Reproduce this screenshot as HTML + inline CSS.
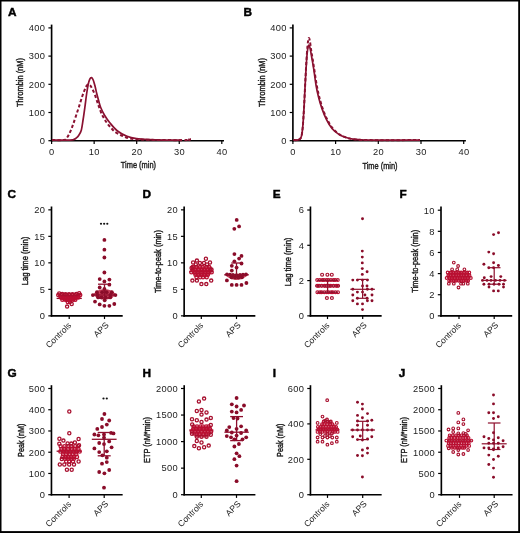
<!DOCTYPE html>
<html><head><meta charset="utf-8"><style>html,body{margin:0;padding:0;background:#fff;}svg{display:block;will-change:transform;}text{font-family:"Liberation Sans", sans-serif;}</style></head>
<body><svg width="520" height="533" viewBox="0 0 520 533" font-family='"Liberation Sans", sans-serif'><rect x="0" y="0" width="1.5" height="533" fill="#000"/>
<rect x="0" y="0" width="520" height="1.5" fill="#000"/>
<rect x="518.2" y="0" width="1.8" height="533" fill="#000"/>
<rect x="0" y="531.1" width="520" height="1.9" fill="#000"/>
<line x1="51.60" y1="24.60" x2="51.60" y2="141.50" stroke="#000" stroke-width="1.65"/>
<line x1="48.40" y1="140.70" x2="51.60" y2="140.70" stroke="#000" stroke-width="1.2"/>
<text x="45.40" y="144.00" font-size="9.3" text-anchor="end" fill="#1c1c1c" font-weight="normal" letter-spacing="0.35">0</text>
<line x1="48.40" y1="112.50" x2="51.60" y2="112.50" stroke="#000" stroke-width="1.2"/>
<text x="45.40" y="115.80" font-size="9.3" text-anchor="end" fill="#1c1c1c" font-weight="normal" letter-spacing="0.35">100</text>
<line x1="48.40" y1="84.30" x2="51.60" y2="84.30" stroke="#000" stroke-width="1.2"/>
<text x="45.40" y="87.60" font-size="9.3" text-anchor="end" fill="#1c1c1c" font-weight="normal" letter-spacing="0.35">200</text>
<line x1="48.40" y1="56.10" x2="51.60" y2="56.10" stroke="#000" stroke-width="1.2"/>
<text x="45.40" y="59.40" font-size="9.3" text-anchor="end" fill="#1c1c1c" font-weight="normal" letter-spacing="0.35">300</text>
<line x1="48.40" y1="27.90" x2="51.60" y2="27.90" stroke="#000" stroke-width="1.2"/>
<text x="45.40" y="31.20" font-size="9.3" text-anchor="end" fill="#1c1c1c" font-weight="normal" letter-spacing="0.35">400</text>
<text transform="translate(23.20,82.45) rotate(-90)" x="0" y="0" font-size="9.6" text-anchor="middle" fill="#1c1c1c" stroke="#1c1c1c" stroke-width="0.42" textLength="49" lengthAdjust="spacingAndGlyphs">Thrombin (nM)</text>
<line x1="50.80" y1="140.70" x2="224.00" y2="140.70" stroke="#000" stroke-width="1.65"/>
<line x1="51.60" y1="140.70" x2="51.60" y2="143.90" stroke="#000" stroke-width="1.2"/>
<text x="51.80" y="155.10" font-size="9.3" text-anchor="middle" fill="#1c1c1c" font-weight="normal" letter-spacing="0.35">0</text>
<line x1="94.15" y1="140.70" x2="94.15" y2="143.90" stroke="#000" stroke-width="1.2"/>
<text x="94.35" y="155.10" font-size="9.3" text-anchor="middle" fill="#1c1c1c" font-weight="normal" letter-spacing="0.35">10</text>
<line x1="136.70" y1="140.70" x2="136.70" y2="143.90" stroke="#000" stroke-width="1.2"/>
<text x="136.90" y="155.10" font-size="9.3" text-anchor="middle" fill="#1c1c1c" font-weight="normal" letter-spacing="0.35">20</text>
<line x1="179.25" y1="140.70" x2="179.25" y2="143.90" stroke="#000" stroke-width="1.2"/>
<text x="179.45" y="155.10" font-size="9.3" text-anchor="middle" fill="#1c1c1c" font-weight="normal" letter-spacing="0.35">30</text>
<line x1="221.80" y1="140.70" x2="221.80" y2="143.90" stroke="#000" stroke-width="1.2"/>
<text x="222.00" y="155.10" font-size="9.3" text-anchor="middle" fill="#1c1c1c" font-weight="normal" letter-spacing="0.35">40</text>
<text x="138.40" y="167.60" font-size="9.6" text-anchor="middle" fill="#1c1c1c" stroke="#1c1c1c" stroke-width="0.42" textLength="35.2" lengthAdjust="spacingAndGlyphs">Time (min)</text>
<path d="M52.00,140.10 C55.00,140.10 66.42,140.18 70.00,140.10 C73.58,140.02 72.50,139.92 73.50,139.60 C74.50,139.28 75.17,138.83 76.00,138.20 C76.83,137.57 77.62,137.13 78.50,135.80 C79.38,134.47 80.52,133.00 81.30,130.20 C82.08,127.40 82.58,122.98 83.20,119.00 C83.82,115.02 84.43,110.47 85.00,106.30 C85.57,102.13 86.07,97.63 86.60,94.00 C87.13,90.37 87.67,86.97 88.20,84.50 C88.73,82.03 89.27,80.35 89.80,79.20 C90.33,78.05 90.83,77.47 91.40,77.60 C91.97,77.73 92.60,78.60 93.20,80.00 C93.80,81.40 94.43,83.83 95.00,86.00 C95.57,88.17 96.00,90.58 96.60,93.00 C97.20,95.42 97.92,98.08 98.60,100.50 C99.28,102.92 99.68,105.00 100.70,107.50 C101.72,110.00 103.18,112.97 104.70,115.50 C106.22,118.03 107.67,120.12 109.80,122.70 C111.93,125.28 114.63,128.73 117.50,131.00 C120.37,133.27 123.83,135.02 127.00,136.30 C130.17,137.58 132.83,138.13 136.50,138.70 C140.17,139.27 144.25,139.47 149.00,139.70 C153.75,139.93 159.50,140.02 165.00,140.10 C170.50,140.18 179.17,140.18 182.00,140.20" fill="none" stroke="#8a1131" stroke-width="1.7"  stroke-linejoin="round"/>
<path d="M52.00,140.10 C53.67,140.10 59.78,140.18 62.00,140.10 C64.22,140.02 64.42,140.07 65.30,139.60 C66.18,139.13 66.67,138.20 67.30,137.30 C67.93,136.40 68.45,135.50 69.10,134.20 C69.75,132.90 70.50,131.23 71.20,129.50 C71.90,127.77 72.48,126.13 73.30,123.80 C74.12,121.47 75.17,118.30 76.10,115.50 C77.03,112.70 77.88,110.17 78.90,107.00 C79.92,103.83 81.18,99.47 82.20,96.50 C83.22,93.53 84.22,91.05 85.00,89.20 C85.78,87.35 86.30,86.18 86.90,85.40 C87.50,84.62 88.02,84.47 88.60,84.50 C89.18,84.53 89.78,84.85 90.40,85.60 C91.02,86.35 91.57,87.52 92.30,89.00 C93.03,90.48 93.97,92.33 94.80,94.50 C95.63,96.67 96.53,99.75 97.30,102.00 C98.07,104.25 98.63,105.92 99.40,108.00 C100.17,110.08 101.02,112.58 101.90,114.50 C102.78,116.42 103.78,118.00 104.70,119.50 C105.62,121.00 106.35,122.12 107.40,123.50 C108.45,124.88 109.80,126.45 111.00,127.80 C112.20,129.15 113.22,130.50 114.60,131.60 C115.98,132.70 117.73,133.58 119.30,134.40 C120.87,135.22 122.22,135.80 124.00,136.50 C125.78,137.20 127.33,138.10 130.00,138.60 C132.67,139.10 135.00,139.27 140.00,139.50 C145.00,139.73 152.33,139.90 160.00,140.00 C167.67,140.10 181.33,140.23 186.00,140.10 C190.67,139.97 187.42,139.22 188.00,139.20 C188.58,139.18 189.00,140.03 189.50,140.00 C190.00,139.97 190.50,138.98 191.00,139.00 C191.50,139.02 192.25,139.92 192.50,140.10" fill="none" stroke="#8a1131" stroke-width="2.0" stroke-dasharray="3.2 2.2" stroke-linejoin="round"/>
<line x1="292.90" y1="24.60" x2="292.90" y2="141.50" stroke="#000" stroke-width="1.65"/>
<line x1="289.70" y1="140.70" x2="292.90" y2="140.70" stroke="#000" stroke-width="1.2"/>
<text x="286.70" y="144.00" font-size="9.3" text-anchor="end" fill="#1c1c1c" font-weight="normal" letter-spacing="0.35">0</text>
<line x1="289.70" y1="112.50" x2="292.90" y2="112.50" stroke="#000" stroke-width="1.2"/>
<text x="286.70" y="115.80" font-size="9.3" text-anchor="end" fill="#1c1c1c" font-weight="normal" letter-spacing="0.35">100</text>
<line x1="289.70" y1="84.30" x2="292.90" y2="84.30" stroke="#000" stroke-width="1.2"/>
<text x="286.70" y="87.60" font-size="9.3" text-anchor="end" fill="#1c1c1c" font-weight="normal" letter-spacing="0.35">200</text>
<line x1="289.70" y1="56.10" x2="292.90" y2="56.10" stroke="#000" stroke-width="1.2"/>
<text x="286.70" y="59.40" font-size="9.3" text-anchor="end" fill="#1c1c1c" font-weight="normal" letter-spacing="0.35">300</text>
<line x1="289.70" y1="27.90" x2="292.90" y2="27.90" stroke="#000" stroke-width="1.2"/>
<text x="286.70" y="31.20" font-size="9.3" text-anchor="end" fill="#1c1c1c" font-weight="normal" letter-spacing="0.35">400</text>
<text transform="translate(264.50,82.45) rotate(-90)" x="0" y="0" font-size="9.6" text-anchor="middle" fill="#1c1c1c" stroke="#1c1c1c" stroke-width="0.42" textLength="49" lengthAdjust="spacingAndGlyphs">Thrombin (nM)</text>
<line x1="292.10" y1="140.70" x2="465.90" y2="140.70" stroke="#000" stroke-width="1.65"/>
<line x1="292.90" y1="140.70" x2="292.90" y2="143.90" stroke="#000" stroke-width="1.2"/>
<text x="293.10" y="155.10" font-size="9.3" text-anchor="middle" fill="#1c1c1c" font-weight="normal" letter-spacing="0.35">0</text>
<line x1="335.60" y1="140.70" x2="335.60" y2="143.90" stroke="#000" stroke-width="1.2"/>
<text x="335.80" y="155.10" font-size="9.3" text-anchor="middle" fill="#1c1c1c" font-weight="normal" letter-spacing="0.35">10</text>
<line x1="378.30" y1="140.70" x2="378.30" y2="143.90" stroke="#000" stroke-width="1.2"/>
<text x="378.50" y="155.10" font-size="9.3" text-anchor="middle" fill="#1c1c1c" font-weight="normal" letter-spacing="0.35">20</text>
<line x1="421.00" y1="140.70" x2="421.00" y2="143.90" stroke="#000" stroke-width="1.2"/>
<text x="421.20" y="155.10" font-size="9.3" text-anchor="middle" fill="#1c1c1c" font-weight="normal" letter-spacing="0.35">30</text>
<line x1="463.70" y1="140.70" x2="463.70" y2="143.90" stroke="#000" stroke-width="1.2"/>
<text x="463.90" y="155.10" font-size="9.3" text-anchor="middle" fill="#1c1c1c" font-weight="normal" letter-spacing="0.35">40</text>
<text x="380.00" y="169.40" font-size="9.6" text-anchor="middle" fill="#1c1c1c" stroke="#1c1c1c" stroke-width="0.42" textLength="35.2" lengthAdjust="spacingAndGlyphs">Time (min)</text>
<path d="M293.50,140.10 C294.08,140.10 296.08,140.18 297.00,140.10 C297.92,140.02 298.40,139.92 299.00,139.60 C299.60,139.28 300.15,138.93 300.60,138.20 C301.05,137.47 301.33,137.15 301.70,135.20 C302.07,133.25 302.42,131.02 302.80,126.50 C303.18,121.98 303.62,114.85 304.00,108.10 C304.38,101.35 304.75,92.68 305.10,86.00 C305.45,79.32 305.77,73.33 306.10,68.00 C306.43,62.67 306.75,57.62 307.10,54.00 C307.45,50.38 307.85,47.72 308.20,46.30 C308.55,44.88 308.85,45.02 309.20,45.50 C309.55,45.98 309.90,47.37 310.30,49.20 C310.70,51.03 311.02,53.13 311.60,56.50 C312.18,59.87 313.05,64.57 313.80,69.40 C314.55,74.23 315.33,80.98 316.10,85.50 C316.87,90.02 317.45,92.73 318.40,96.50 C319.35,100.27 320.45,104.25 321.80,108.10 C323.15,111.95 324.77,116.15 326.50,119.60 C328.23,123.05 330.08,126.30 332.20,128.80 C334.32,131.30 336.88,133.15 339.20,134.60 C341.52,136.05 343.80,136.75 346.10,137.50 C348.40,138.25 349.85,138.68 353.00,139.10 C356.15,139.52 358.83,139.82 365.00,140.00 C371.17,140.18 380.83,140.18 390.00,140.20 C399.17,140.22 415.00,140.12 420.00,140.10" fill="none" stroke="#8a1131" stroke-width="1.7"  stroke-linejoin="round"/>
<path d="M293.50,140.10 C294.08,140.10 296.08,140.18 297.00,140.10 C297.92,140.02 298.40,139.92 299.00,139.60 C299.60,139.28 300.15,138.93 300.60,138.20 C301.05,137.47 301.33,137.15 301.70,135.20 C302.07,133.25 302.42,131.02 302.80,126.50 C303.18,121.98 303.60,115.18 304.00,108.10 C304.40,101.02 304.82,91.52 305.20,84.00 C305.58,76.48 305.92,69.33 306.30,63.00 C306.68,56.67 307.10,50.13 307.50,46.00 C307.90,41.87 308.30,39.00 308.70,38.20 C309.10,37.40 309.48,39.15 309.90,41.20 C310.32,43.25 310.72,47.37 311.20,50.50 C311.68,53.63 312.25,56.58 312.80,60.00 C313.35,63.42 313.87,66.92 314.50,71.00 C315.13,75.08 315.87,80.42 316.60,84.50 C317.33,88.58 317.95,91.67 318.90,95.50 C319.85,99.33 320.95,103.58 322.30,107.50 C323.65,111.42 325.25,115.50 327.00,119.00 C328.75,122.50 330.67,125.90 332.80,128.50 C334.93,131.10 337.50,133.07 339.80,134.60 C342.10,136.13 344.32,136.93 346.60,137.70 C348.88,138.47 350.43,138.82 353.50,139.20 C356.57,139.58 358.92,139.83 365.00,140.00 C371.08,140.17 380.83,140.20 390.00,140.20 C399.17,140.20 415.00,140.03 420.00,140.00" fill="none" stroke="#8a1131" stroke-width="2.0" stroke-dasharray="3.2 2.2" stroke-linejoin="round"/>
<line x1="51.50" y1="206.50" x2="51.50" y2="316.65" stroke="#000" stroke-width="1.65"/>
<line x1="48.30" y1="315.85" x2="51.50" y2="315.85" stroke="#000" stroke-width="1.2"/>
<text x="45.30" y="319.15" font-size="9.3" text-anchor="end" fill="#1c1c1c" font-weight="normal" letter-spacing="0.35">0</text>
<line x1="48.30" y1="289.35" x2="51.50" y2="289.35" stroke="#000" stroke-width="1.2"/>
<text x="45.30" y="292.65" font-size="9.3" text-anchor="end" fill="#1c1c1c" font-weight="normal" letter-spacing="0.35">5</text>
<line x1="48.30" y1="262.85" x2="51.50" y2="262.85" stroke="#000" stroke-width="1.2"/>
<text x="45.30" y="266.15" font-size="9.3" text-anchor="end" fill="#1c1c1c" font-weight="normal" letter-spacing="0.35">10</text>
<line x1="48.30" y1="236.35" x2="51.50" y2="236.35" stroke="#000" stroke-width="1.2"/>
<text x="45.30" y="239.65" font-size="9.3" text-anchor="end" fill="#1c1c1c" font-weight="normal" letter-spacing="0.35">15</text>
<line x1="48.30" y1="209.85" x2="51.50" y2="209.85" stroke="#000" stroke-width="1.2"/>
<text x="45.30" y="213.15" font-size="9.3" text-anchor="end" fill="#1c1c1c" font-weight="normal" letter-spacing="0.35">20</text>
<text transform="translate(28.20,261.00) rotate(-90)" x="0" y="0" font-size="9.6" text-anchor="middle" fill="#1c1c1c" stroke="#1c1c1c" stroke-width="0.42" textLength="48.6" lengthAdjust="spacingAndGlyphs">Lag time (min)</text>
<line x1="50.70" y1="315.85" x2="122.70" y2="315.85" stroke="#000" stroke-width="1.65"/>
<line x1="69.20" y1="315.85" x2="69.20" y2="319.05" stroke="#000" stroke-width="1.2"/>
<text transform="translate(71.80,325.95) rotate(-45)" x="0" y="0" font-size="8.6" text-anchor="end" fill="#1c1c1c">Controls</text>
<line x1="104.50" y1="315.85" x2="104.50" y2="319.05" stroke="#000" stroke-width="1.2"/>
<text transform="translate(109.20,325.65) rotate(-45)" x="0" y="0" font-size="8.6" text-anchor="end" fill="#1c1c1c">APS</text>
<line x1="184.15" y1="206.50" x2="184.15" y2="316.65" stroke="#000" stroke-width="1.65"/>
<line x1="180.95" y1="315.85" x2="184.15" y2="315.85" stroke="#000" stroke-width="1.2"/>
<text x="177.95" y="319.15" font-size="9.3" text-anchor="end" fill="#1c1c1c" font-weight="normal" letter-spacing="0.35">0</text>
<line x1="180.95" y1="289.35" x2="184.15" y2="289.35" stroke="#000" stroke-width="1.2"/>
<text x="177.95" y="292.65" font-size="9.3" text-anchor="end" fill="#1c1c1c" font-weight="normal" letter-spacing="0.35">5</text>
<line x1="180.95" y1="262.85" x2="184.15" y2="262.85" stroke="#000" stroke-width="1.2"/>
<text x="177.95" y="266.15" font-size="9.3" text-anchor="end" fill="#1c1c1c" font-weight="normal" letter-spacing="0.35">10</text>
<line x1="180.95" y1="236.35" x2="184.15" y2="236.35" stroke="#000" stroke-width="1.2"/>
<text x="177.95" y="239.65" font-size="9.3" text-anchor="end" fill="#1c1c1c" font-weight="normal" letter-spacing="0.35">15</text>
<line x1="180.95" y1="209.85" x2="184.15" y2="209.85" stroke="#000" stroke-width="1.2"/>
<text x="177.95" y="213.15" font-size="9.3" text-anchor="end" fill="#1c1c1c" font-weight="normal" letter-spacing="0.35">20</text>
<text transform="translate(160.80,261.50) rotate(-90)" x="0" y="0" font-size="9.6" text-anchor="middle" fill="#1c1c1c" stroke="#1c1c1c" stroke-width="0.42" textLength="62.9" lengthAdjust="spacingAndGlyphs">Time-to-peak (min)</text>
<line x1="183.35" y1="315.85" x2="255.35" y2="315.85" stroke="#000" stroke-width="1.65"/>
<line x1="201.30" y1="315.85" x2="201.30" y2="319.05" stroke="#000" stroke-width="1.2"/>
<text transform="translate(203.90,325.95) rotate(-45)" x="0" y="0" font-size="8.6" text-anchor="end" fill="#1c1c1c">Controls</text>
<line x1="236.50" y1="315.85" x2="236.50" y2="319.05" stroke="#000" stroke-width="1.2"/>
<text transform="translate(241.20,325.65) rotate(-45)" x="0" y="0" font-size="8.6" text-anchor="end" fill="#1c1c1c">APS</text>
<line x1="310.45" y1="206.50" x2="310.45" y2="316.65" stroke="#000" stroke-width="1.65"/>
<line x1="307.25" y1="315.85" x2="310.45" y2="315.85" stroke="#000" stroke-width="1.2"/>
<text x="304.25" y="319.15" font-size="9.3" text-anchor="end" fill="#1c1c1c" font-weight="normal" letter-spacing="0.35">0</text>
<line x1="307.25" y1="280.57" x2="310.45" y2="280.57" stroke="#000" stroke-width="1.2"/>
<text x="304.25" y="283.87" font-size="9.3" text-anchor="end" fill="#1c1c1c" font-weight="normal" letter-spacing="0.35">2</text>
<line x1="307.25" y1="245.29" x2="310.45" y2="245.29" stroke="#000" stroke-width="1.2"/>
<text x="304.25" y="248.59" font-size="9.3" text-anchor="end" fill="#1c1c1c" font-weight="normal" letter-spacing="0.35">4</text>
<line x1="307.25" y1="210.01" x2="310.45" y2="210.01" stroke="#000" stroke-width="1.2"/>
<text x="304.25" y="213.31" font-size="9.3" text-anchor="end" fill="#1c1c1c" font-weight="normal" letter-spacing="0.35">6</text>
<text transform="translate(291.35,261.90) rotate(-90)" x="0" y="0" font-size="9.6" text-anchor="middle" fill="#1c1c1c" stroke="#1c1c1c" stroke-width="0.42" textLength="48.6" lengthAdjust="spacingAndGlyphs">Lag time (min)</text>
<line x1="309.65" y1="315.85" x2="381.65" y2="315.85" stroke="#000" stroke-width="1.65"/>
<line x1="327.50" y1="315.85" x2="327.50" y2="319.05" stroke="#000" stroke-width="1.2"/>
<text transform="translate(330.10,325.95) rotate(-45)" x="0" y="0" font-size="8.6" text-anchor="end" fill="#1c1c1c">Controls</text>
<line x1="362.70" y1="315.85" x2="362.70" y2="319.05" stroke="#000" stroke-width="1.2"/>
<text transform="translate(367.40,325.65) rotate(-45)" x="0" y="0" font-size="8.6" text-anchor="end" fill="#1c1c1c">APS</text>
<line x1="441.00" y1="206.50" x2="441.00" y2="316.65" stroke="#000" stroke-width="1.65"/>
<line x1="437.80" y1="315.85" x2="441.00" y2="315.85" stroke="#000" stroke-width="1.2"/>
<text x="434.80" y="319.15" font-size="9.3" text-anchor="end" fill="#1c1c1c" font-weight="normal" letter-spacing="0.35">0</text>
<line x1="437.80" y1="294.72" x2="441.00" y2="294.72" stroke="#000" stroke-width="1.2"/>
<text x="434.80" y="298.02" font-size="9.3" text-anchor="end" fill="#1c1c1c" font-weight="normal" letter-spacing="0.35">2</text>
<line x1="437.80" y1="273.59" x2="441.00" y2="273.59" stroke="#000" stroke-width="1.2"/>
<text x="434.80" y="276.89" font-size="9.3" text-anchor="end" fill="#1c1c1c" font-weight="normal" letter-spacing="0.35">4</text>
<line x1="437.80" y1="252.46" x2="441.00" y2="252.46" stroke="#000" stroke-width="1.2"/>
<text x="434.80" y="255.76" font-size="9.3" text-anchor="end" fill="#1c1c1c" font-weight="normal" letter-spacing="0.35">6</text>
<line x1="437.80" y1="231.33" x2="441.00" y2="231.33" stroke="#000" stroke-width="1.2"/>
<text x="434.80" y="234.63" font-size="9.3" text-anchor="end" fill="#1c1c1c" font-weight="normal" letter-spacing="0.35">8</text>
<line x1="437.80" y1="210.20" x2="441.00" y2="210.20" stroke="#000" stroke-width="1.2"/>
<text x="434.80" y="213.50" font-size="9.3" text-anchor="end" fill="#1c1c1c" font-weight="normal" letter-spacing="0.35">10</text>
<text transform="translate(418.30,261.20) rotate(-90)" x="0" y="0" font-size="9.6" text-anchor="middle" fill="#1c1c1c" stroke="#1c1c1c" stroke-width="0.42" textLength="62.9" lengthAdjust="spacingAndGlyphs">Time-to-peak (min)</text>
<line x1="440.20" y1="315.85" x2="512.20" y2="315.85" stroke="#000" stroke-width="1.65"/>
<line x1="459.00" y1="315.85" x2="459.00" y2="319.05" stroke="#000" stroke-width="1.2"/>
<text transform="translate(461.60,325.95) rotate(-45)" x="0" y="0" font-size="8.6" text-anchor="end" fill="#1c1c1c">Controls</text>
<line x1="494.20" y1="315.85" x2="494.20" y2="319.05" stroke="#000" stroke-width="1.2"/>
<text transform="translate(498.90,325.65) rotate(-45)" x="0" y="0" font-size="8.6" text-anchor="end" fill="#1c1c1c">APS</text>
<line x1="51.45" y1="385.20" x2="51.45" y2="495.50" stroke="#000" stroke-width="1.65"/>
<line x1="48.25" y1="494.70" x2="51.45" y2="494.70" stroke="#000" stroke-width="1.2"/>
<text x="45.25" y="498.00" font-size="9.3" text-anchor="end" fill="#1c1c1c" font-weight="normal" letter-spacing="0.35">0</text>
<line x1="48.25" y1="473.46" x2="51.45" y2="473.46" stroke="#000" stroke-width="1.2"/>
<text x="45.25" y="476.76" font-size="9.3" text-anchor="end" fill="#1c1c1c" font-weight="normal" letter-spacing="0.35">100</text>
<line x1="48.25" y1="452.22" x2="51.45" y2="452.22" stroke="#000" stroke-width="1.2"/>
<text x="45.25" y="455.52" font-size="9.3" text-anchor="end" fill="#1c1c1c" font-weight="normal" letter-spacing="0.35">200</text>
<line x1="48.25" y1="430.98" x2="51.45" y2="430.98" stroke="#000" stroke-width="1.2"/>
<text x="45.25" y="434.28" font-size="9.3" text-anchor="end" fill="#1c1c1c" font-weight="normal" letter-spacing="0.35">300</text>
<line x1="48.25" y1="409.74" x2="51.45" y2="409.74" stroke="#000" stroke-width="1.2"/>
<text x="45.25" y="413.04" font-size="9.3" text-anchor="end" fill="#1c1c1c" font-weight="normal" letter-spacing="0.35">400</text>
<line x1="48.25" y1="388.50" x2="51.45" y2="388.50" stroke="#000" stroke-width="1.2"/>
<text x="45.25" y="391.80" font-size="9.3" text-anchor="end" fill="#1c1c1c" font-weight="normal" letter-spacing="0.35">500</text>
<text transform="translate(23.60,440.30) rotate(-90)" x="0" y="0" font-size="9.6" text-anchor="middle" fill="#1c1c1c" stroke="#1c1c1c" stroke-width="0.42" textLength="33.2" lengthAdjust="spacingAndGlyphs">Peak (nM)</text>
<line x1="50.65" y1="494.70" x2="122.65" y2="494.70" stroke="#000" stroke-width="1.65"/>
<line x1="69.10" y1="494.70" x2="69.10" y2="497.90" stroke="#000" stroke-width="1.2"/>
<text transform="translate(71.70,504.80) rotate(-45)" x="0" y="0" font-size="8.6" text-anchor="end" fill="#1c1c1c">Controls</text>
<line x1="104.20" y1="494.70" x2="104.20" y2="497.90" stroke="#000" stroke-width="1.2"/>
<text transform="translate(108.90,504.50) rotate(-45)" x="0" y="0" font-size="8.6" text-anchor="end" fill="#1c1c1c">APS</text>
<line x1="184.20" y1="385.20" x2="184.20" y2="495.50" stroke="#000" stroke-width="1.65"/>
<line x1="181.00" y1="494.70" x2="184.20" y2="494.70" stroke="#000" stroke-width="1.2"/>
<text x="178.00" y="498.00" font-size="9.3" text-anchor="end" fill="#1c1c1c" font-weight="normal" letter-spacing="0.35">0</text>
<line x1="181.00" y1="468.15" x2="184.20" y2="468.15" stroke="#000" stroke-width="1.2"/>
<text x="178.00" y="471.45" font-size="9.3" text-anchor="end" fill="#1c1c1c" font-weight="normal" letter-spacing="0.35">500</text>
<line x1="181.00" y1="441.60" x2="184.20" y2="441.60" stroke="#000" stroke-width="1.2"/>
<text x="178.00" y="444.90" font-size="9.3" text-anchor="end" fill="#1c1c1c" font-weight="normal" letter-spacing="0.35">1000</text>
<line x1="181.00" y1="415.05" x2="184.20" y2="415.05" stroke="#000" stroke-width="1.2"/>
<text x="178.00" y="418.35" font-size="9.3" text-anchor="end" fill="#1c1c1c" font-weight="normal" letter-spacing="0.35">1500</text>
<line x1="181.00" y1="388.50" x2="184.20" y2="388.50" stroke="#000" stroke-width="1.2"/>
<text x="178.00" y="391.80" font-size="9.3" text-anchor="end" fill="#1c1c1c" font-weight="normal" letter-spacing="0.35">2000</text>
<text transform="translate(150.30,440.00) rotate(-90)" x="0" y="0" font-size="9.6" text-anchor="middle" fill="#1c1c1c" stroke="#1c1c1c" stroke-width="0.42" textLength="46" lengthAdjust="spacingAndGlyphs">ETP (nM*min)</text>
<line x1="183.40" y1="494.70" x2="255.40" y2="494.70" stroke="#000" stroke-width="1.65"/>
<line x1="201.30" y1="494.70" x2="201.30" y2="497.90" stroke="#000" stroke-width="1.2"/>
<text transform="translate(203.90,504.80) rotate(-45)" x="0" y="0" font-size="8.6" text-anchor="end" fill="#1c1c1c">Controls</text>
<line x1="236.50" y1="494.70" x2="236.50" y2="497.90" stroke="#000" stroke-width="1.2"/>
<text transform="translate(241.20,504.50) rotate(-45)" x="0" y="0" font-size="8.6" text-anchor="end" fill="#1c1c1c">APS</text>
<line x1="310.45" y1="385.20" x2="310.45" y2="495.50" stroke="#000" stroke-width="1.65"/>
<line x1="307.25" y1="494.70" x2="310.45" y2="494.70" stroke="#000" stroke-width="1.2"/>
<text x="304.25" y="498.00" font-size="9.3" text-anchor="end" fill="#1c1c1c" font-weight="normal" letter-spacing="0.35">0</text>
<line x1="307.25" y1="459.30" x2="310.45" y2="459.30" stroke="#000" stroke-width="1.2"/>
<text x="304.25" y="462.60" font-size="9.3" text-anchor="end" fill="#1c1c1c" font-weight="normal" letter-spacing="0.35">200</text>
<line x1="307.25" y1="423.90" x2="310.45" y2="423.90" stroke="#000" stroke-width="1.2"/>
<text x="304.25" y="427.20" font-size="9.3" text-anchor="end" fill="#1c1c1c" font-weight="normal" letter-spacing="0.35">400</text>
<line x1="307.25" y1="388.50" x2="310.45" y2="388.50" stroke="#000" stroke-width="1.2"/>
<text x="304.25" y="391.80" font-size="9.3" text-anchor="end" fill="#1c1c1c" font-weight="normal" letter-spacing="0.35">600</text>
<text transform="translate(282.60,440.30) rotate(-90)" x="0" y="0" font-size="9.6" text-anchor="middle" fill="#1c1c1c" stroke="#1c1c1c" stroke-width="0.42" textLength="33.2" lengthAdjust="spacingAndGlyphs">Peak (nM)</text>
<line x1="309.65" y1="494.70" x2="381.65" y2="494.70" stroke="#000" stroke-width="1.65"/>
<line x1="327.50" y1="494.70" x2="327.50" y2="497.90" stroke="#000" stroke-width="1.2"/>
<text transform="translate(330.10,504.80) rotate(-45)" x="0" y="0" font-size="8.6" text-anchor="end" fill="#1c1c1c">Controls</text>
<line x1="362.70" y1="494.70" x2="362.70" y2="497.90" stroke="#000" stroke-width="1.2"/>
<text transform="translate(367.40,504.50) rotate(-45)" x="0" y="0" font-size="8.6" text-anchor="end" fill="#1c1c1c">APS</text>
<line x1="441.35" y1="385.20" x2="441.35" y2="495.50" stroke="#000" stroke-width="1.65"/>
<line x1="438.15" y1="494.70" x2="441.35" y2="494.70" stroke="#000" stroke-width="1.2"/>
<text x="435.15" y="498.00" font-size="9.3" text-anchor="end" fill="#1c1c1c" font-weight="normal" letter-spacing="0.35">0</text>
<line x1="438.15" y1="473.46" x2="441.35" y2="473.46" stroke="#000" stroke-width="1.2"/>
<text x="435.15" y="476.76" font-size="9.3" text-anchor="end" fill="#1c1c1c" font-weight="normal" letter-spacing="0.35">500</text>
<line x1="438.15" y1="452.22" x2="441.35" y2="452.22" stroke="#000" stroke-width="1.2"/>
<text x="435.15" y="455.52" font-size="9.3" text-anchor="end" fill="#1c1c1c" font-weight="normal" letter-spacing="0.35">1000</text>
<line x1="438.15" y1="430.98" x2="441.35" y2="430.98" stroke="#000" stroke-width="1.2"/>
<text x="435.15" y="434.28" font-size="9.3" text-anchor="end" fill="#1c1c1c" font-weight="normal" letter-spacing="0.35">1500</text>
<line x1="438.15" y1="409.74" x2="441.35" y2="409.74" stroke="#000" stroke-width="1.2"/>
<text x="435.15" y="413.04" font-size="9.3" text-anchor="end" fill="#1c1c1c" font-weight="normal" letter-spacing="0.35">2000</text>
<line x1="438.15" y1="388.50" x2="441.35" y2="388.50" stroke="#000" stroke-width="1.2"/>
<text x="435.15" y="391.80" font-size="9.3" text-anchor="end" fill="#1c1c1c" font-weight="normal" letter-spacing="0.35">2500</text>
<text transform="translate(407.45,440.00) rotate(-90)" x="0" y="0" font-size="9.6" text-anchor="middle" fill="#1c1c1c" stroke="#1c1c1c" stroke-width="0.42" textLength="46" lengthAdjust="spacingAndGlyphs">ETP (nM*min)</text>
<line x1="440.55" y1="494.70" x2="512.55" y2="494.70" stroke="#000" stroke-width="1.65"/>
<line x1="459.50" y1="494.70" x2="459.50" y2="497.90" stroke="#000" stroke-width="1.2"/>
<text transform="translate(462.10,504.80) rotate(-45)" x="0" y="0" font-size="8.6" text-anchor="end" fill="#1c1c1c">Controls</text>
<line x1="494.20" y1="494.70" x2="494.20" y2="497.90" stroke="#000" stroke-width="1.2"/>
<text transform="translate(498.90,504.50) rotate(-45)" x="0" y="0" font-size="8.6" text-anchor="end" fill="#1c1c1c">APS</text>
<line x1="56.60" y1="298.40" x2="81.80" y2="298.40" stroke="#8e0f2d" stroke-width="1.3"/>
<circle cx="58.24" cy="295.10" r="1.6" fill="#fff" fill-opacity="0" stroke="#b90f31" stroke-width="1.3"/>
<circle cx="61.33" cy="295.10" r="1.6" fill="#fff" fill-opacity="0" stroke="#b90f31" stroke-width="1.3"/>
<circle cx="64.41" cy="295.10" r="1.6" fill="#fff" fill-opacity="0" stroke="#b90f31" stroke-width="1.3"/>
<circle cx="66.59" cy="295.10" r="1.6" fill="#fff" fill-opacity="0" stroke="#b90f31" stroke-width="1.3"/>
<circle cx="69.68" cy="295.10" r="1.6" fill="#fff" fill-opacity="0" stroke="#b90f31" stroke-width="1.3"/>
<circle cx="71.87" cy="295.10" r="1.6" fill="#fff" fill-opacity="0" stroke="#b90f31" stroke-width="1.3"/>
<circle cx="74.95" cy="295.10" r="1.6" fill="#fff" fill-opacity="0" stroke="#b90f31" stroke-width="1.3"/>
<circle cx="78.04" cy="295.10" r="1.6" fill="#fff" fill-opacity="0" stroke="#b90f31" stroke-width="1.3"/>
<circle cx="80.22" cy="295.10" r="1.6" fill="#fff" fill-opacity="0" stroke="#b90f31" stroke-width="1.3"/>
<circle cx="60.93" cy="297.45" r="1.6" fill="#fff" fill-opacity="0" stroke="#b90f31" stroke-width="1.3"/>
<circle cx="62.89" cy="297.45" r="1.6" fill="#fff" fill-opacity="0" stroke="#b90f31" stroke-width="1.3"/>
<circle cx="65.75" cy="297.45" r="1.6" fill="#fff" fill-opacity="0" stroke="#b90f31" stroke-width="1.3"/>
<circle cx="68.61" cy="297.45" r="1.6" fill="#fff" fill-opacity="0" stroke="#b90f31" stroke-width="1.3"/>
<circle cx="70.57" cy="297.45" r="1.6" fill="#fff" fill-opacity="0" stroke="#b90f31" stroke-width="1.3"/>
<circle cx="73.43" cy="297.45" r="1.6" fill="#fff" fill-opacity="0" stroke="#b90f31" stroke-width="1.3"/>
<circle cx="75.39" cy="297.45" r="1.6" fill="#fff" fill-opacity="0" stroke="#b90f31" stroke-width="1.3"/>
<circle cx="78.25" cy="297.45" r="1.6" fill="#fff" fill-opacity="0" stroke="#b90f31" stroke-width="1.3"/>
<circle cx="62.32" cy="299.80" r="1.6" fill="#fff" fill-opacity="0" stroke="#b90f31" stroke-width="1.3"/>
<circle cx="65.28" cy="299.80" r="1.6" fill="#fff" fill-opacity="0" stroke="#b90f31" stroke-width="1.3"/>
<circle cx="67.34" cy="299.80" r="1.6" fill="#fff" fill-opacity="0" stroke="#b90f31" stroke-width="1.3"/>
<circle cx="70.30" cy="299.80" r="1.6" fill="#fff" fill-opacity="0" stroke="#b90f31" stroke-width="1.3"/>
<circle cx="73.26" cy="299.80" r="1.6" fill="#fff" fill-opacity="0" stroke="#b90f31" stroke-width="1.3"/>
<circle cx="75.32" cy="299.80" r="1.6" fill="#fff" fill-opacity="0" stroke="#b90f31" stroke-width="1.3"/>
<circle cx="67.73" cy="302.05" r="1.6" fill="#fff" fill-opacity="0" stroke="#b90f31" stroke-width="1.3"/>
<circle cx="69.94" cy="302.05" r="1.6" fill="#fff" fill-opacity="0" stroke="#b90f31" stroke-width="1.3"/>
<polygon points="58.0,294.6 80.5,294.6 80.8,297.0 76.0,300.3 69.0,302.3 62.0,300.3 58.0,297.0" fill="#b90f31" fill-opacity="0.95"/>
<circle cx="59.20" cy="293.40" r="1.6" fill="#fff" fill-opacity="0" stroke="#a8102f" stroke-width="1.3"/>
<circle cx="62.20" cy="293.90" r="1.6" fill="#fff" fill-opacity="0" stroke="#a8102f" stroke-width="1.3"/>
<circle cx="76.30" cy="293.90" r="1.6" fill="#fff" fill-opacity="0" stroke="#a8102f" stroke-width="1.3"/>
<circle cx="79.20" cy="293.30" r="1.6" fill="#fff" fill-opacity="0" stroke="#a8102f" stroke-width="1.3"/>
<circle cx="65.50" cy="294.20" r="1.6" fill="#fff" fill-opacity="0" stroke="#a8102f" stroke-width="1.3"/>
<circle cx="69.00" cy="294.20" r="1.6" fill="#fff" fill-opacity="0" stroke="#a8102f" stroke-width="1.3"/>
<circle cx="72.50" cy="294.20" r="1.6" fill="#fff" fill-opacity="0" stroke="#a8102f" stroke-width="1.3"/>
<circle cx="67.10" cy="306.60" r="1.6" fill="#fff" fill-opacity="0" stroke="#a8102f" stroke-width="1.3"/>
<circle cx="71.70" cy="304.00" r="1.6" fill="#fff" fill-opacity="0" stroke="#a8102f" stroke-width="1.3"/>
<polygon points="93.0,294.3 97.0,290.8 101.0,289.6 104.5,289.0 108.0,289.6 112.0,290.8 116.0,294.3 112.0,298.2 107.0,299.6 102.0,299.6 97.0,298.2" fill="#b90f31" fill-opacity="0.8"/>
<circle cx="104.40" cy="239.90" r="1.9" fill="#8a0c29"/>
<circle cx="104.40" cy="249.70" r="1.9" fill="#8a0c29"/>
<circle cx="104.40" cy="257.50" r="1.9" fill="#8a0c29"/>
<circle cx="104.40" cy="272.50" r="1.9" fill="#8a0c29"/>
<circle cx="99.70" cy="279.10" r="1.9" fill="#8a0c29"/>
<circle cx="109.40" cy="279.60" r="1.9" fill="#8a0c29"/>
<circle cx="104.40" cy="281.40" r="1.9" fill="#8a0c29"/>
<circle cx="109.40" cy="284.70" r="1.9" fill="#8a0c29"/>
<circle cx="99.70" cy="287.50" r="1.9" fill="#8a0c29"/>
<circle cx="104.40" cy="289.00" r="1.9" fill="#8a0c29"/>
<circle cx="96.90" cy="292.20" r="1.9" fill="#8a0c29"/>
<circle cx="102.10" cy="292.20" r="1.9" fill="#8a0c29"/>
<circle cx="106.70" cy="292.20" r="1.9" fill="#8a0c29"/>
<circle cx="111.90" cy="292.20" r="1.9" fill="#8a0c29"/>
<circle cx="92.90" cy="295.10" r="1.9" fill="#8a0c29"/>
<circle cx="115.40" cy="295.10" r="1.9" fill="#8a0c29"/>
<circle cx="97.50" cy="295.00" r="1.9" fill="#8a0c29"/>
<circle cx="110.50" cy="295.00" r="1.9" fill="#8a0c29"/>
<circle cx="98.10" cy="297.40" r="1.9" fill="#8a0c29"/>
<circle cx="101.50" cy="297.40" r="1.9" fill="#8a0c29"/>
<circle cx="105.60" cy="297.40" r="1.9" fill="#8a0c29"/>
<circle cx="110.20" cy="297.40" r="1.9" fill="#8a0c29"/>
<circle cx="104.70" cy="300.30" r="1.9" fill="#8a0c29"/>
<circle cx="95.00" cy="301.60" r="1.9" fill="#8a0c29"/>
<circle cx="99.70" cy="304.40" r="1.9" fill="#8a0c29"/>
<circle cx="104.40" cy="305.80" r="1.9" fill="#8a0c29"/>
<circle cx="109.40" cy="305.80" r="1.9" fill="#8a0c29"/>
<circle cx="114.30" cy="304.00" r="1.9" fill="#8a0c29"/>
<circle cx="101.00" cy="223.75" r="1.1" fill="#111"/>
<circle cx="104.15" cy="223.75" r="1.1" fill="#111"/>
<circle cx="107.30" cy="223.75" r="1.1" fill="#111"/>
<line x1="189.30" y1="271.60" x2="213.30" y2="271.60" stroke="#8e0f2d" stroke-width="1.3"/>
<circle cx="192.64" cy="267.10" r="1.6" fill="#fff" fill-opacity="0" stroke="#b90f31" stroke-width="1.3"/>
<circle cx="196.30" cy="267.10" r="1.6" fill="#fff" fill-opacity="0" stroke="#b90f31" stroke-width="1.3"/>
<circle cx="199.96" cy="267.10" r="1.6" fill="#fff" fill-opacity="0" stroke="#b90f31" stroke-width="1.3"/>
<circle cx="202.72" cy="267.10" r="1.6" fill="#fff" fill-opacity="0" stroke="#b90f31" stroke-width="1.3"/>
<circle cx="206.38" cy="267.10" r="1.6" fill="#fff" fill-opacity="0" stroke="#b90f31" stroke-width="1.3"/>
<circle cx="209.14" cy="267.10" r="1.6" fill="#fff" fill-opacity="0" stroke="#b90f31" stroke-width="1.3"/>
<circle cx="192.68" cy="269.65" r="1.6" fill="#fff" fill-opacity="0" stroke="#b90f31" stroke-width="1.3"/>
<circle cx="195.14" cy="269.65" r="1.6" fill="#fff" fill-opacity="0" stroke="#b90f31" stroke-width="1.3"/>
<circle cx="198.50" cy="269.65" r="1.6" fill="#fff" fill-opacity="0" stroke="#b90f31" stroke-width="1.3"/>
<circle cx="201.86" cy="269.65" r="1.6" fill="#fff" fill-opacity="0" stroke="#b90f31" stroke-width="1.3"/>
<circle cx="204.32" cy="269.65" r="1.6" fill="#fff" fill-opacity="0" stroke="#b90f31" stroke-width="1.3"/>
<circle cx="207.68" cy="269.65" r="1.6" fill="#fff" fill-opacity="0" stroke="#b90f31" stroke-width="1.3"/>
<circle cx="210.14" cy="269.65" r="1.6" fill="#fff" fill-opacity="0" stroke="#b90f31" stroke-width="1.3"/>
<circle cx="191.32" cy="272.20" r="1.6" fill="#fff" fill-opacity="0" stroke="#b90f31" stroke-width="1.3"/>
<circle cx="195.01" cy="272.20" r="1.6" fill="#fff" fill-opacity="0" stroke="#b90f31" stroke-width="1.3"/>
<circle cx="197.81" cy="272.20" r="1.6" fill="#fff" fill-opacity="0" stroke="#b90f31" stroke-width="1.3"/>
<circle cx="201.50" cy="272.20" r="1.6" fill="#fff" fill-opacity="0" stroke="#b90f31" stroke-width="1.3"/>
<circle cx="205.19" cy="272.20" r="1.6" fill="#fff" fill-opacity="0" stroke="#b90f31" stroke-width="1.3"/>
<circle cx="207.99" cy="272.20" r="1.6" fill="#fff" fill-opacity="0" stroke="#b90f31" stroke-width="1.3"/>
<circle cx="211.68" cy="272.20" r="1.6" fill="#fff" fill-opacity="0" stroke="#b90f31" stroke-width="1.3"/>
<circle cx="195.46" cy="274.75" r="1.6" fill="#fff" fill-opacity="0" stroke="#b90f31" stroke-width="1.3"/>
<circle cx="198.12" cy="274.75" r="1.6" fill="#fff" fill-opacity="0" stroke="#b90f31" stroke-width="1.3"/>
<circle cx="201.68" cy="274.75" r="1.6" fill="#fff" fill-opacity="0" stroke="#b90f31" stroke-width="1.3"/>
<circle cx="204.34" cy="274.75" r="1.6" fill="#fff" fill-opacity="0" stroke="#b90f31" stroke-width="1.3"/>
<circle cx="207.90" cy="274.75" r="1.6" fill="#fff" fill-opacity="0" stroke="#b90f31" stroke-width="1.3"/>
<circle cx="196.50" cy="277.30" r="1.6" fill="#fff" fill-opacity="0" stroke="#b90f31" stroke-width="1.3"/>
<circle cx="200.19" cy="277.30" r="1.6" fill="#fff" fill-opacity="0" stroke="#b90f31" stroke-width="1.3"/>
<circle cx="202.99" cy="277.30" r="1.6" fill="#fff" fill-opacity="0" stroke="#b90f31" stroke-width="1.3"/>
<circle cx="206.68" cy="277.30" r="1.6" fill="#fff" fill-opacity="0" stroke="#b90f31" stroke-width="1.3"/>
<polygon points="191.5,266.5 211.5,266.5 212.8,270.0 211.0,274.0 207.0,277.3 197.0,277.3 192.5,274.0 190.5,270.0" fill="#b90f31" fill-opacity="0.8"/>
<circle cx="205.90" cy="258.80" r="1.6" fill="#fff" fill-opacity="0" stroke="#a8102f" stroke-width="1.3"/>
<circle cx="196.90" cy="260.60" r="1.6" fill="#fff" fill-opacity="0" stroke="#a8102f" stroke-width="1.3"/>
<circle cx="193.10" cy="262.50" r="1.6" fill="#fff" fill-opacity="0" stroke="#a8102f" stroke-width="1.3"/>
<circle cx="210.00" cy="262.50" r="1.6" fill="#fff" fill-opacity="0" stroke="#a8102f" stroke-width="1.3"/>
<circle cx="204.00" cy="262.90" r="1.6" fill="#fff" fill-opacity="0" stroke="#a8102f" stroke-width="1.3"/>
<circle cx="199.90" cy="262.90" r="1.6" fill="#fff" fill-opacity="0" stroke="#a8102f" stroke-width="1.3"/>
<circle cx="195.80" cy="264.40" r="1.6" fill="#fff" fill-opacity="0" stroke="#a8102f" stroke-width="1.3"/>
<circle cx="207.00" cy="264.40" r="1.6" fill="#fff" fill-opacity="0" stroke="#a8102f" stroke-width="1.3"/>
<circle cx="191.60" cy="268.10" r="1.6" fill="#fff" fill-opacity="0" stroke="#a8102f" stroke-width="1.3"/>
<circle cx="211.50" cy="269.60" r="1.6" fill="#fff" fill-opacity="0" stroke="#a8102f" stroke-width="1.3"/>
<circle cx="192.40" cy="280.60" r="1.6" fill="#fff" fill-opacity="0" stroke="#a8102f" stroke-width="1.3"/>
<circle cx="196.90" cy="280.60" r="1.6" fill="#fff" fill-opacity="0" stroke="#a8102f" stroke-width="1.3"/>
<circle cx="201.40" cy="284.10" r="1.6" fill="#fff" fill-opacity="0" stroke="#a8102f" stroke-width="1.3"/>
<circle cx="206.30" cy="284.10" r="1.6" fill="#fff" fill-opacity="0" stroke="#a8102f" stroke-width="1.3"/>
<circle cx="211.20" cy="280.60" r="1.6" fill="#fff" fill-opacity="0" stroke="#a8102f" stroke-width="1.3"/>
<polygon points="225.0,274.2 248.5,274.2 246.0,276.8 241.5,279.2 236.5,280.0 231.5,279.2 227.0,276.8" fill="#b90f31" fill-opacity="0.8"/>
<circle cx="236.70" cy="219.90" r="1.9" fill="#8a0c29"/>
<circle cx="239.10" cy="226.40" r="1.9" fill="#8a0c29"/>
<circle cx="234.30" cy="228.80" r="1.9" fill="#8a0c29"/>
<circle cx="234.40" cy="254.10" r="1.9" fill="#8a0c29"/>
<circle cx="241.50" cy="255.90" r="1.9" fill="#8a0c29"/>
<circle cx="239.10" cy="258.60" r="1.9" fill="#8a0c29"/>
<circle cx="234.40" cy="261.30" r="1.9" fill="#8a0c29"/>
<circle cx="241.50" cy="263.50" r="1.9" fill="#8a0c29"/>
<circle cx="231.80" cy="265.80" r="1.9" fill="#8a0c29"/>
<circle cx="236.60" cy="267.60" r="1.9" fill="#8a0c29"/>
<circle cx="231.80" cy="270.60" r="1.9" fill="#8a0c29"/>
<circle cx="227.00" cy="274.30" r="1.9" fill="#8a0c29"/>
<circle cx="230.00" cy="274.60" r="1.9" fill="#8a0c29"/>
<circle cx="233.00" cy="275.00" r="1.9" fill="#8a0c29"/>
<circle cx="236.50" cy="275.20" r="1.9" fill="#8a0c29"/>
<circle cx="240.00" cy="275.00" r="1.9" fill="#8a0c29"/>
<circle cx="243.00" cy="274.60" r="1.9" fill="#8a0c29"/>
<circle cx="246.00" cy="274.30" r="1.9" fill="#8a0c29"/>
<circle cx="231.50" cy="277.30" r="1.9" fill="#8a0c29"/>
<circle cx="235.00" cy="277.60" r="1.9" fill="#8a0c29"/>
<circle cx="238.50" cy="277.60" r="1.9" fill="#8a0c29"/>
<circle cx="242.00" cy="277.30" r="1.9" fill="#8a0c29"/>
<circle cx="226.90" cy="280.40" r="1.9" fill="#8a0c29"/>
<circle cx="231.80" cy="284.90" r="1.9" fill="#8a0c29"/>
<circle cx="236.60" cy="284.90" r="1.9" fill="#8a0c29"/>
<circle cx="241.50" cy="284.90" r="1.9" fill="#8a0c29"/>
<circle cx="246.40" cy="283.00" r="1.9" fill="#8a0c29"/>
<circle cx="317.24" cy="280.00" r="1.4500000000000002" fill="#fff" fill-opacity="0" stroke="#b90f31" stroke-width="1.2000000000000002"/>
<circle cx="319.82" cy="280.00" r="1.4500000000000002" fill="#fff" fill-opacity="0" stroke="#b90f31" stroke-width="1.2000000000000002"/>
<circle cx="322.40" cy="280.00" r="1.4500000000000002" fill="#fff" fill-opacity="0" stroke="#b90f31" stroke-width="1.2000000000000002"/>
<circle cx="324.09" cy="280.00" r="1.4500000000000002" fill="#fff" fill-opacity="0" stroke="#b90f31" stroke-width="1.2000000000000002"/>
<circle cx="326.67" cy="280.00" r="1.4500000000000002" fill="#fff" fill-opacity="0" stroke="#b90f31" stroke-width="1.2000000000000002"/>
<circle cx="328.35" cy="280.00" r="1.4500000000000002" fill="#fff" fill-opacity="0" stroke="#b90f31" stroke-width="1.2000000000000002"/>
<circle cx="330.93" cy="280.00" r="1.4500000000000002" fill="#fff" fill-opacity="0" stroke="#b90f31" stroke-width="1.2000000000000002"/>
<circle cx="333.52" cy="280.00" r="1.4500000000000002" fill="#fff" fill-opacity="0" stroke="#b90f31" stroke-width="1.2000000000000002"/>
<circle cx="335.20" cy="280.00" r="1.4500000000000002" fill="#fff" fill-opacity="0" stroke="#b90f31" stroke-width="1.2000000000000002"/>
<circle cx="337.78" cy="280.00" r="1.4500000000000002" fill="#fff" fill-opacity="0" stroke="#b90f31" stroke-width="1.2000000000000002"/>
<circle cx="317.18" cy="285.85" r="1.4500000000000002" fill="#fff" fill-opacity="0" stroke="#b90f31" stroke-width="1.2000000000000002"/>
<circle cx="319.00" cy="285.85" r="1.4500000000000002" fill="#fff" fill-opacity="0" stroke="#b90f31" stroke-width="1.2000000000000002"/>
<circle cx="321.71" cy="285.85" r="1.4500000000000002" fill="#fff" fill-opacity="0" stroke="#b90f31" stroke-width="1.2000000000000002"/>
<circle cx="324.43" cy="285.85" r="1.4500000000000002" fill="#fff" fill-opacity="0" stroke="#b90f31" stroke-width="1.2000000000000002"/>
<circle cx="326.24" cy="285.85" r="1.4500000000000002" fill="#fff" fill-opacity="0" stroke="#b90f31" stroke-width="1.2000000000000002"/>
<circle cx="328.96" cy="285.85" r="1.4500000000000002" fill="#fff" fill-opacity="0" stroke="#b90f31" stroke-width="1.2000000000000002"/>
<circle cx="330.77" cy="285.85" r="1.4500000000000002" fill="#fff" fill-opacity="0" stroke="#b90f31" stroke-width="1.2000000000000002"/>
<circle cx="333.49" cy="285.85" r="1.4500000000000002" fill="#fff" fill-opacity="0" stroke="#b90f31" stroke-width="1.2000000000000002"/>
<circle cx="336.20" cy="285.85" r="1.4500000000000002" fill="#fff" fill-opacity="0" stroke="#b90f31" stroke-width="1.2000000000000002"/>
<circle cx="338.02" cy="285.85" r="1.4500000000000002" fill="#fff" fill-opacity="0" stroke="#b90f31" stroke-width="1.2000000000000002"/>
<circle cx="317.42" cy="292.20" r="1.4500000000000002" fill="#fff" fill-opacity="0" stroke="#b90f31" stroke-width="1.2000000000000002"/>
<circle cx="320.00" cy="292.20" r="1.4500000000000002" fill="#fff" fill-opacity="0" stroke="#b90f31" stroke-width="1.2000000000000002"/>
<circle cx="321.68" cy="292.20" r="1.4500000000000002" fill="#fff" fill-opacity="0" stroke="#b90f31" stroke-width="1.2000000000000002"/>
<circle cx="324.27" cy="292.20" r="1.4500000000000002" fill="#fff" fill-opacity="0" stroke="#b90f31" stroke-width="1.2000000000000002"/>
<circle cx="326.85" cy="292.20" r="1.4500000000000002" fill="#fff" fill-opacity="0" stroke="#b90f31" stroke-width="1.2000000000000002"/>
<circle cx="328.53" cy="292.20" r="1.4500000000000002" fill="#fff" fill-opacity="0" stroke="#b90f31" stroke-width="1.2000000000000002"/>
<circle cx="331.11" cy="292.20" r="1.4500000000000002" fill="#fff" fill-opacity="0" stroke="#b90f31" stroke-width="1.2000000000000002"/>
<circle cx="332.80" cy="292.20" r="1.4500000000000002" fill="#fff" fill-opacity="0" stroke="#b90f31" stroke-width="1.2000000000000002"/>
<circle cx="335.38" cy="292.20" r="1.4500000000000002" fill="#fff" fill-opacity="0" stroke="#b90f31" stroke-width="1.2000000000000002"/>
<circle cx="337.96" cy="292.20" r="1.4500000000000002" fill="#fff" fill-opacity="0" stroke="#b90f31" stroke-width="1.2000000000000002"/>
<circle cx="322.10" cy="274.70" r="1.4500000000000002" fill="#fff" fill-opacity="0" stroke="#a8102f" stroke-width="1.2000000000000002"/>
<circle cx="327.40" cy="274.70" r="1.4500000000000002" fill="#fff" fill-opacity="0" stroke="#a8102f" stroke-width="1.2000000000000002"/>
<circle cx="331.80" cy="274.70" r="1.4500000000000002" fill="#fff" fill-opacity="0" stroke="#a8102f" stroke-width="1.2000000000000002"/>
<circle cx="326.90" cy="298.00" r="1.4500000000000002" fill="#fff" fill-opacity="0" stroke="#a8102f" stroke-width="1.2000000000000002"/>
<circle cx="331.90" cy="298.00" r="1.4500000000000002" fill="#fff" fill-opacity="0" stroke="#a8102f" stroke-width="1.2000000000000002"/>
<circle cx="362.50" cy="218.70" r="1.45" fill="#8a0c29"/>
<circle cx="362.30" cy="251.10" r="1.45" fill="#8a0c29"/>
<circle cx="362.30" cy="257.10" r="1.45" fill="#8a0c29"/>
<circle cx="362.30" cy="262.90" r="1.45" fill="#8a0c29"/>
<circle cx="362.30" cy="268.60" r="1.45" fill="#8a0c29"/>
<circle cx="367.10" cy="271.80" r="1.45" fill="#8a0c29"/>
<circle cx="362.30" cy="274.40" r="1.45" fill="#8a0c29"/>
<circle cx="352.80" cy="280.10" r="1.45" fill="#8a0c29"/>
<circle cx="357.40" cy="280.10" r="1.45" fill="#8a0c29"/>
<circle cx="362.40" cy="280.10" r="1.45" fill="#8a0c29"/>
<circle cx="367.40" cy="280.10" r="1.45" fill="#8a0c29"/>
<circle cx="362.50" cy="286.00" r="1.45" fill="#8a0c29"/>
<circle cx="367.00" cy="286.00" r="1.45" fill="#8a0c29"/>
<circle cx="352.80" cy="289.30" r="1.45" fill="#8a0c29"/>
<circle cx="367.40" cy="289.30" r="1.45" fill="#8a0c29"/>
<circle cx="372.00" cy="289.30" r="1.45" fill="#8a0c29"/>
<circle cx="357.40" cy="292.10" r="1.45" fill="#8a0c29"/>
<circle cx="362.50" cy="292.10" r="1.45" fill="#8a0c29"/>
<circle cx="352.80" cy="295.00" r="1.45" fill="#8a0c29"/>
<circle cx="364.90" cy="295.00" r="1.45" fill="#8a0c29"/>
<circle cx="372.00" cy="295.00" r="1.45" fill="#8a0c29"/>
<circle cx="357.40" cy="298.20" r="1.45" fill="#8a0c29"/>
<circle cx="367.00" cy="298.20" r="1.45" fill="#8a0c29"/>
<circle cx="352.80" cy="300.70" r="1.45" fill="#8a0c29"/>
<circle cx="367.40" cy="300.70" r="1.45" fill="#8a0c29"/>
<circle cx="372.00" cy="300.70" r="1.45" fill="#8a0c29"/>
<circle cx="357.40" cy="303.90" r="1.45" fill="#8a0c29"/>
<circle cx="362.50" cy="303.90" r="1.45" fill="#8a0c29"/>
<circle cx="362.50" cy="309.60" r="1.45" fill="#8a0c29"/>
<line x1="446.70" y1="276.70" x2="471.30" y2="276.70" stroke="#8e0f2d" stroke-width="1.3"/>
<circle cx="447.64" cy="272.50" r="1.35" fill="#fff" fill-opacity="0" stroke="#b90f31" stroke-width="1.1"/>
<circle cx="450.69" cy="272.50" r="1.35" fill="#fff" fill-opacity="0" stroke="#b90f31" stroke-width="1.1"/>
<circle cx="453.74" cy="272.50" r="1.35" fill="#fff" fill-opacity="0" stroke="#b90f31" stroke-width="1.1"/>
<circle cx="455.88" cy="272.50" r="1.35" fill="#fff" fill-opacity="0" stroke="#b90f31" stroke-width="1.1"/>
<circle cx="458.93" cy="272.50" r="1.35" fill="#fff" fill-opacity="0" stroke="#b90f31" stroke-width="1.1"/>
<circle cx="461.08" cy="272.50" r="1.35" fill="#fff" fill-opacity="0" stroke="#b90f31" stroke-width="1.1"/>
<circle cx="464.12" cy="272.50" r="1.35" fill="#fff" fill-opacity="0" stroke="#b90f31" stroke-width="1.1"/>
<circle cx="467.17" cy="272.50" r="1.35" fill="#fff" fill-opacity="0" stroke="#b90f31" stroke-width="1.1"/>
<circle cx="469.32" cy="272.50" r="1.35" fill="#fff" fill-opacity="0" stroke="#b90f31" stroke-width="1.1"/>
<circle cx="448.30" cy="275.25" r="1.35" fill="#fff" fill-opacity="0" stroke="#b90f31" stroke-width="1.1"/>
<circle cx="450.39" cy="275.25" r="1.35" fill="#fff" fill-opacity="0" stroke="#b90f31" stroke-width="1.1"/>
<circle cx="453.38" cy="275.25" r="1.35" fill="#fff" fill-opacity="0" stroke="#b90f31" stroke-width="1.1"/>
<circle cx="456.38" cy="275.25" r="1.35" fill="#fff" fill-opacity="0" stroke="#b90f31" stroke-width="1.1"/>
<circle cx="458.47" cy="275.25" r="1.35" fill="#fff" fill-opacity="0" stroke="#b90f31" stroke-width="1.1"/>
<circle cx="461.46" cy="275.25" r="1.35" fill="#fff" fill-opacity="0" stroke="#b90f31" stroke-width="1.1"/>
<circle cx="463.56" cy="275.25" r="1.35" fill="#fff" fill-opacity="0" stroke="#b90f31" stroke-width="1.1"/>
<circle cx="466.55" cy="275.25" r="1.35" fill="#fff" fill-opacity="0" stroke="#b90f31" stroke-width="1.1"/>
<circle cx="469.54" cy="275.25" r="1.35" fill="#fff" fill-opacity="0" stroke="#b90f31" stroke-width="1.1"/>
<circle cx="446.62" cy="278.00" r="1.35" fill="#fff" fill-opacity="0" stroke="#b90f31" stroke-width="1.1"/>
<circle cx="449.61" cy="278.00" r="1.35" fill="#fff" fill-opacity="0" stroke="#b90f31" stroke-width="1.1"/>
<circle cx="451.71" cy="278.00" r="1.35" fill="#fff" fill-opacity="0" stroke="#b90f31" stroke-width="1.1"/>
<circle cx="454.70" cy="278.00" r="1.35" fill="#fff" fill-opacity="0" stroke="#b90f31" stroke-width="1.1"/>
<circle cx="457.69" cy="278.00" r="1.35" fill="#fff" fill-opacity="0" stroke="#b90f31" stroke-width="1.1"/>
<circle cx="459.79" cy="278.00" r="1.35" fill="#fff" fill-opacity="0" stroke="#b90f31" stroke-width="1.1"/>
<circle cx="462.78" cy="278.00" r="1.35" fill="#fff" fill-opacity="0" stroke="#b90f31" stroke-width="1.1"/>
<circle cx="464.87" cy="278.00" r="1.35" fill="#fff" fill-opacity="0" stroke="#b90f31" stroke-width="1.1"/>
<circle cx="467.87" cy="278.00" r="1.35" fill="#fff" fill-opacity="0" stroke="#b90f31" stroke-width="1.1"/>
<circle cx="470.86" cy="278.00" r="1.35" fill="#fff" fill-opacity="0" stroke="#b90f31" stroke-width="1.1"/>
<circle cx="449.10" cy="280.75" r="1.35" fill="#fff" fill-opacity="0" stroke="#b90f31" stroke-width="1.1"/>
<circle cx="451.04" cy="280.75" r="1.35" fill="#fff" fill-opacity="0" stroke="#b90f31" stroke-width="1.1"/>
<circle cx="453.87" cy="280.75" r="1.35" fill="#fff" fill-opacity="0" stroke="#b90f31" stroke-width="1.1"/>
<circle cx="455.81" cy="280.75" r="1.35" fill="#fff" fill-opacity="0" stroke="#b90f31" stroke-width="1.1"/>
<circle cx="458.65" cy="280.75" r="1.35" fill="#fff" fill-opacity="0" stroke="#b90f31" stroke-width="1.1"/>
<circle cx="461.49" cy="280.75" r="1.35" fill="#fff" fill-opacity="0" stroke="#b90f31" stroke-width="1.1"/>
<circle cx="463.43" cy="280.75" r="1.35" fill="#fff" fill-opacity="0" stroke="#b90f31" stroke-width="1.1"/>
<circle cx="466.26" cy="280.75" r="1.35" fill="#fff" fill-opacity="0" stroke="#b90f31" stroke-width="1.1"/>
<circle cx="468.20" cy="280.75" r="1.35" fill="#fff" fill-opacity="0" stroke="#b90f31" stroke-width="1.1"/>
<polygon points="449.0,271.2 468.0,271.2 470.3,276.0 469.0,281.8 449.0,281.8 447.0,276.0" fill="#b90f31" fill-opacity="0.75"/>
<circle cx="453.80" cy="262.60" r="1.35" fill="#fff" fill-opacity="0" stroke="#a8102f" stroke-width="1.1"/>
<circle cx="458.10" cy="266.00" r="1.35" fill="#fff" fill-opacity="0" stroke="#a8102f" stroke-width="1.1"/>
<circle cx="452.10" cy="269.40" r="1.35" fill="#fff" fill-opacity="0" stroke="#a8102f" stroke-width="1.1"/>
<circle cx="457.20" cy="269.40" r="1.35" fill="#fff" fill-opacity="0" stroke="#a8102f" stroke-width="1.1"/>
<circle cx="464.40" cy="269.40" r="1.35" fill="#fff" fill-opacity="0" stroke="#a8102f" stroke-width="1.1"/>
<circle cx="448.80" cy="283.70" r="1.35" fill="#fff" fill-opacity="0" stroke="#a8102f" stroke-width="1.1"/>
<circle cx="453.80" cy="283.70" r="1.35" fill="#fff" fill-opacity="0" stroke="#a8102f" stroke-width="1.1"/>
<circle cx="461.00" cy="283.70" r="1.35" fill="#fff" fill-opacity="0" stroke="#a8102f" stroke-width="1.1"/>
<circle cx="463.40" cy="283.70" r="1.35" fill="#fff" fill-opacity="0" stroke="#a8102f" stroke-width="1.1"/>
<circle cx="467.80" cy="283.70" r="1.35" fill="#fff" fill-opacity="0" stroke="#a8102f" stroke-width="1.1"/>
<circle cx="458.50" cy="287.50" r="1.35" fill="#fff" fill-opacity="0" stroke="#a8102f" stroke-width="1.1"/>
<circle cx="493.60" cy="234.60" r="1.45" fill="#8a0c29"/>
<circle cx="498.50" cy="232.70" r="1.45" fill="#8a0c29"/>
<circle cx="488.80" cy="252.10" r="1.45" fill="#8a0c29"/>
<circle cx="493.60" cy="253.80" r="1.45" fill="#8a0c29"/>
<circle cx="483.90" cy="264.30" r="1.45" fill="#8a0c29"/>
<circle cx="493.60" cy="262.70" r="1.45" fill="#8a0c29"/>
<circle cx="488.80" cy="267.70" r="1.45" fill="#8a0c29"/>
<circle cx="493.60" cy="267.70" r="1.45" fill="#8a0c29"/>
<circle cx="498.40" cy="265.50" r="1.45" fill="#8a0c29"/>
<circle cx="491.10" cy="276.60" r="1.45" fill="#8a0c29"/>
<circle cx="500.80" cy="276.60" r="1.45" fill="#8a0c29"/>
<circle cx="484.30" cy="277.80" r="1.45" fill="#8a0c29"/>
<circle cx="482.50" cy="280.40" r="1.45" fill="#8a0c29"/>
<circle cx="487.00" cy="280.40" r="1.45" fill="#8a0c29"/>
<circle cx="491.00" cy="280.40" r="1.45" fill="#8a0c29"/>
<circle cx="495.50" cy="280.40" r="1.45" fill="#8a0c29"/>
<circle cx="500.00" cy="280.40" r="1.45" fill="#8a0c29"/>
<circle cx="504.50" cy="280.40" r="1.45" fill="#8a0c29"/>
<circle cx="483.90" cy="284.20" r="1.45" fill="#8a0c29"/>
<circle cx="489.00" cy="284.20" r="1.45" fill="#8a0c29"/>
<circle cx="494.00" cy="284.20" r="1.45" fill="#8a0c29"/>
<circle cx="499.00" cy="284.20" r="1.45" fill="#8a0c29"/>
<circle cx="503.50" cy="284.20" r="1.45" fill="#8a0c29"/>
<circle cx="489.00" cy="287.10" r="1.45" fill="#8a0c29"/>
<circle cx="503.50" cy="287.10" r="1.45" fill="#8a0c29"/>
<circle cx="493.60" cy="290.90" r="1.45" fill="#8a0c29"/>
<circle cx="498.30" cy="290.90" r="1.45" fill="#8a0c29"/>
<line x1="56.60" y1="451.20" x2="81.60" y2="451.20" stroke="#8e0f2d" stroke-width="1.3"/>
<circle cx="60.64" cy="446.30" r="1.6" fill="#fff" fill-opacity="0" stroke="#b90f31" stroke-width="1.3"/>
<circle cx="64.50" cy="446.30" r="1.6" fill="#fff" fill-opacity="0" stroke="#b90f31" stroke-width="1.3"/>
<circle cx="68.36" cy="446.30" r="1.6" fill="#fff" fill-opacity="0" stroke="#b90f31" stroke-width="1.3"/>
<circle cx="71.32" cy="446.30" r="1.6" fill="#fff" fill-opacity="0" stroke="#b90f31" stroke-width="1.3"/>
<circle cx="75.18" cy="446.30" r="1.6" fill="#fff" fill-opacity="0" stroke="#b90f31" stroke-width="1.3"/>
<circle cx="78.14" cy="446.30" r="1.6" fill="#fff" fill-opacity="0" stroke="#b90f31" stroke-width="1.3"/>
<circle cx="61.39" cy="448.95" r="1.6" fill="#fff" fill-opacity="0" stroke="#b90f31" stroke-width="1.3"/>
<circle cx="64.27" cy="448.95" r="1.6" fill="#fff" fill-opacity="0" stroke="#b90f31" stroke-width="1.3"/>
<circle cx="68.04" cy="448.95" r="1.6" fill="#fff" fill-opacity="0" stroke="#b90f31" stroke-width="1.3"/>
<circle cx="71.82" cy="448.95" r="1.6" fill="#fff" fill-opacity="0" stroke="#b90f31" stroke-width="1.3"/>
<circle cx="74.69" cy="448.95" r="1.6" fill="#fff" fill-opacity="0" stroke="#b90f31" stroke-width="1.3"/>
<circle cx="78.47" cy="448.95" r="1.6" fill="#fff" fill-opacity="0" stroke="#b90f31" stroke-width="1.3"/>
<circle cx="60.32" cy="451.60" r="1.6" fill="#fff" fill-opacity="0" stroke="#b90f31" stroke-width="1.3"/>
<circle cx="63.85" cy="451.60" r="1.6" fill="#fff" fill-opacity="0" stroke="#b90f31" stroke-width="1.3"/>
<circle cx="66.47" cy="451.60" r="1.6" fill="#fff" fill-opacity="0" stroke="#b90f31" stroke-width="1.3"/>
<circle cx="70.00" cy="451.60" r="1.6" fill="#fff" fill-opacity="0" stroke="#b90f31" stroke-width="1.3"/>
<circle cx="73.53" cy="451.60" r="1.6" fill="#fff" fill-opacity="0" stroke="#b90f31" stroke-width="1.3"/>
<circle cx="76.15" cy="451.60" r="1.6" fill="#fff" fill-opacity="0" stroke="#b90f31" stroke-width="1.3"/>
<circle cx="79.68" cy="451.60" r="1.6" fill="#fff" fill-opacity="0" stroke="#b90f31" stroke-width="1.3"/>
<circle cx="63.06" cy="454.25" r="1.6" fill="#fff" fill-opacity="0" stroke="#b90f31" stroke-width="1.3"/>
<circle cx="65.92" cy="454.25" r="1.6" fill="#fff" fill-opacity="0" stroke="#b90f31" stroke-width="1.3"/>
<circle cx="69.68" cy="454.25" r="1.6" fill="#fff" fill-opacity="0" stroke="#b90f31" stroke-width="1.3"/>
<circle cx="72.54" cy="454.25" r="1.6" fill="#fff" fill-opacity="0" stroke="#b90f31" stroke-width="1.3"/>
<circle cx="76.30" cy="454.25" r="1.6" fill="#fff" fill-opacity="0" stroke="#b90f31" stroke-width="1.3"/>
<circle cx="62.50" cy="456.90" r="1.6" fill="#fff" fill-opacity="0" stroke="#b90f31" stroke-width="1.3"/>
<circle cx="65.76" cy="456.90" r="1.6" fill="#fff" fill-opacity="0" stroke="#b90f31" stroke-width="1.3"/>
<circle cx="68.12" cy="456.90" r="1.6" fill="#fff" fill-opacity="0" stroke="#b90f31" stroke-width="1.3"/>
<circle cx="71.38" cy="456.90" r="1.6" fill="#fff" fill-opacity="0" stroke="#b90f31" stroke-width="1.3"/>
<circle cx="73.74" cy="456.90" r="1.6" fill="#fff" fill-opacity="0" stroke="#b90f31" stroke-width="1.3"/>
<circle cx="77.00" cy="456.90" r="1.6" fill="#fff" fill-opacity="0" stroke="#b90f31" stroke-width="1.3"/>
<circle cx="65.08" cy="458.80" r="1.6" fill="#fff" fill-opacity="0" stroke="#b90f31" stroke-width="1.3"/>
<circle cx="68.31" cy="458.80" r="1.6" fill="#fff" fill-opacity="0" stroke="#b90f31" stroke-width="1.3"/>
<circle cx="71.55" cy="458.80" r="1.6" fill="#fff" fill-opacity="0" stroke="#b90f31" stroke-width="1.3"/>
<circle cx="73.88" cy="458.80" r="1.6" fill="#fff" fill-opacity="0" stroke="#b90f31" stroke-width="1.3"/>
<circle cx="66.18" cy="461.45" r="1.6" fill="#fff" fill-opacity="0" stroke="#b90f31" stroke-width="1.3"/>
<circle cx="69.14" cy="461.45" r="1.6" fill="#fff" fill-opacity="0" stroke="#b90f31" stroke-width="1.3"/>
<circle cx="73.00" cy="461.45" r="1.6" fill="#fff" fill-opacity="0" stroke="#b90f31" stroke-width="1.3"/>
<polygon points="61.5,446.0 78.0,446.0 79.0,450.0 77.0,455.0 74.0,459.5 65.0,459.5 62.0,455.0 60.5,450.0" fill="#b90f31" fill-opacity="0.45"/>
<circle cx="69.30" cy="411.50" r="1.6" fill="#fff" fill-opacity="0" stroke="#a8102f" stroke-width="1.3"/>
<circle cx="69.30" cy="433.30" r="1.6" fill="#fff" fill-opacity="0" stroke="#a8102f" stroke-width="1.3"/>
<circle cx="59.40" cy="438.80" r="1.6" fill="#fff" fill-opacity="0" stroke="#a8102f" stroke-width="1.3"/>
<circle cx="63.40" cy="440.60" r="1.6" fill="#fff" fill-opacity="0" stroke="#a8102f" stroke-width="1.3"/>
<circle cx="78.60" cy="439.00" r="1.6" fill="#fff" fill-opacity="0" stroke="#a8102f" stroke-width="1.3"/>
<circle cx="74.90" cy="442.50" r="1.6" fill="#fff" fill-opacity="0" stroke="#a8102f" stroke-width="1.3"/>
<circle cx="67.60" cy="443.40" r="1.6" fill="#fff" fill-opacity="0" stroke="#a8102f" stroke-width="1.3"/>
<circle cx="71.30" cy="443.60" r="1.6" fill="#fff" fill-opacity="0" stroke="#a8102f" stroke-width="1.3"/>
<circle cx="59.30" cy="443.70" r="1.6" fill="#fff" fill-opacity="0" stroke="#a8102f" stroke-width="1.3"/>
<circle cx="79.00" cy="445.20" r="1.6" fill="#fff" fill-opacity="0" stroke="#a8102f" stroke-width="1.3"/>
<circle cx="61.80" cy="459.00" r="1.6" fill="#fff" fill-opacity="0" stroke="#a8102f" stroke-width="1.3"/>
<circle cx="78.60" cy="461.50" r="1.6" fill="#fff" fill-opacity="0" stroke="#a8102f" stroke-width="1.3"/>
<circle cx="59.80" cy="464.50" r="1.6" fill="#fff" fill-opacity="0" stroke="#a8102f" stroke-width="1.3"/>
<circle cx="64.30" cy="464.50" r="1.6" fill="#fff" fill-opacity="0" stroke="#a8102f" stroke-width="1.3"/>
<circle cx="69.20" cy="464.50" r="1.6" fill="#fff" fill-opacity="0" stroke="#a8102f" stroke-width="1.3"/>
<circle cx="74.00" cy="464.50" r="1.6" fill="#fff" fill-opacity="0" stroke="#a8102f" stroke-width="1.3"/>
<circle cx="66.90" cy="469.80" r="1.6" fill="#fff" fill-opacity="0" stroke="#a8102f" stroke-width="1.3"/>
<circle cx="71.70" cy="469.80" r="1.6" fill="#fff" fill-opacity="0" stroke="#a8102f" stroke-width="1.3"/>
<circle cx="104.40" cy="414.00" r="1.9" fill="#8a0c29"/>
<circle cx="102.00" cy="419.00" r="1.9" fill="#8a0c29"/>
<circle cx="109.20" cy="420.50" r="1.9" fill="#8a0c29"/>
<circle cx="106.80" cy="424.60" r="1.9" fill="#8a0c29"/>
<circle cx="102.00" cy="427.00" r="1.9" fill="#8a0c29"/>
<circle cx="97.30" cy="428.90" r="1.9" fill="#8a0c29"/>
<circle cx="94.40" cy="434.50" r="1.9" fill="#8a0c29"/>
<circle cx="98.40" cy="435.30" r="1.9" fill="#8a0c29"/>
<circle cx="104.00" cy="434.50" r="1.9" fill="#8a0c29"/>
<circle cx="111.10" cy="432.90" r="1.9" fill="#8a0c29"/>
<circle cx="113.50" cy="433.40" r="1.9" fill="#8a0c29"/>
<circle cx="104.00" cy="437.70" r="1.9" fill="#8a0c29"/>
<circle cx="99.20" cy="443.00" r="1.9" fill="#8a0c29"/>
<circle cx="104.00" cy="444.10" r="1.9" fill="#8a0c29"/>
<circle cx="109.20" cy="441.40" r="1.9" fill="#8a0c29"/>
<circle cx="94.40" cy="448.40" r="1.9" fill="#8a0c29"/>
<circle cx="111.60" cy="447.30" r="1.9" fill="#8a0c29"/>
<circle cx="99.20" cy="452.10" r="1.9" fill="#8a0c29"/>
<circle cx="106.80" cy="451.30" r="1.9" fill="#8a0c29"/>
<circle cx="102.40" cy="455.30" r="1.9" fill="#8a0c29"/>
<circle cx="106.80" cy="457.70" r="1.9" fill="#8a0c29"/>
<circle cx="106.80" cy="462.10" r="1.9" fill="#8a0c29"/>
<circle cx="102.00" cy="463.70" r="1.9" fill="#8a0c29"/>
<circle cx="109.20" cy="470.00" r="1.9" fill="#8a0c29"/>
<circle cx="99.20" cy="472.00" r="1.9" fill="#8a0c29"/>
<circle cx="104.40" cy="473.30" r="1.9" fill="#8a0c29"/>
<circle cx="104.00" cy="487.70" r="1.9" fill="#8a0c29"/>
<circle cx="103.50" cy="398.50" r="1.1" fill="#111"/>
<circle cx="106.80" cy="398.50" r="1.1" fill="#111"/>
<line x1="189.20" y1="430.10" x2="213.40" y2="430.10" stroke="#8e0f2d" stroke-width="1.3"/>
<circle cx="193.64" cy="426.50" r="1.6" fill="#fff" fill-opacity="0" stroke="#b90f31" stroke-width="1.3"/>
<circle cx="197.00" cy="426.50" r="1.6" fill="#fff" fill-opacity="0" stroke="#b90f31" stroke-width="1.3"/>
<circle cx="200.36" cy="426.50" r="1.6" fill="#fff" fill-opacity="0" stroke="#b90f31" stroke-width="1.3"/>
<circle cx="202.82" cy="426.50" r="1.6" fill="#fff" fill-opacity="0" stroke="#b90f31" stroke-width="1.3"/>
<circle cx="206.18" cy="426.50" r="1.6" fill="#fff" fill-opacity="0" stroke="#b90f31" stroke-width="1.3"/>
<circle cx="208.64" cy="426.50" r="1.6" fill="#fff" fill-opacity="0" stroke="#b90f31" stroke-width="1.3"/>
<circle cx="193.35" cy="429.05" r="1.6" fill="#fff" fill-opacity="0" stroke="#b90f31" stroke-width="1.3"/>
<circle cx="196.14" cy="429.05" r="1.6" fill="#fff" fill-opacity="0" stroke="#b90f31" stroke-width="1.3"/>
<circle cx="199.83" cy="429.05" r="1.6" fill="#fff" fill-opacity="0" stroke="#b90f31" stroke-width="1.3"/>
<circle cx="203.53" cy="429.05" r="1.6" fill="#fff" fill-opacity="0" stroke="#b90f31" stroke-width="1.3"/>
<circle cx="206.32" cy="429.05" r="1.6" fill="#fff" fill-opacity="0" stroke="#b90f31" stroke-width="1.3"/>
<circle cx="210.01" cy="429.05" r="1.6" fill="#fff" fill-opacity="0" stroke="#b90f31" stroke-width="1.3"/>
<circle cx="191.82" cy="431.60" r="1.6" fill="#fff" fill-opacity="0" stroke="#b90f31" stroke-width="1.3"/>
<circle cx="195.35" cy="431.60" r="1.6" fill="#fff" fill-opacity="0" stroke="#b90f31" stroke-width="1.3"/>
<circle cx="197.97" cy="431.60" r="1.6" fill="#fff" fill-opacity="0" stroke="#b90f31" stroke-width="1.3"/>
<circle cx="201.50" cy="431.60" r="1.6" fill="#fff" fill-opacity="0" stroke="#b90f31" stroke-width="1.3"/>
<circle cx="205.03" cy="431.60" r="1.6" fill="#fff" fill-opacity="0" stroke="#b90f31" stroke-width="1.3"/>
<circle cx="207.65" cy="431.60" r="1.6" fill="#fff" fill-opacity="0" stroke="#b90f31" stroke-width="1.3"/>
<circle cx="211.18" cy="431.60" r="1.6" fill="#fff" fill-opacity="0" stroke="#b90f31" stroke-width="1.3"/>
<circle cx="196.61" cy="434.15" r="1.6" fill="#fff" fill-opacity="0" stroke="#b90f31" stroke-width="1.3"/>
<circle cx="199.57" cy="434.15" r="1.6" fill="#fff" fill-opacity="0" stroke="#b90f31" stroke-width="1.3"/>
<circle cx="203.43" cy="434.15" r="1.6" fill="#fff" fill-opacity="0" stroke="#b90f31" stroke-width="1.3"/>
<circle cx="206.39" cy="434.15" r="1.6" fill="#fff" fill-opacity="0" stroke="#b90f31" stroke-width="1.3"/>
<polygon points="192.5,426.0 210.5,426.0 212.5,430.0 211.0,434.5 207.0,437.5 196.0,437.5 192.0,434.5 190.5,430.0" fill="#b90f31" fill-opacity="0.75"/>
<circle cx="198.90" cy="401.40" r="1.6" fill="#fff" fill-opacity="0" stroke="#a8102f" stroke-width="1.3"/>
<circle cx="204.10" cy="398.60" r="1.6" fill="#fff" fill-opacity="0" stroke="#a8102f" stroke-width="1.3"/>
<circle cx="196.80" cy="411.00" r="1.6" fill="#fff" fill-opacity="0" stroke="#a8102f" stroke-width="1.3"/>
<circle cx="201.50" cy="410.00" r="1.6" fill="#fff" fill-opacity="0" stroke="#a8102f" stroke-width="1.3"/>
<circle cx="206.50" cy="412.40" r="1.6" fill="#fff" fill-opacity="0" stroke="#a8102f" stroke-width="1.3"/>
<circle cx="201.50" cy="414.60" r="1.6" fill="#fff" fill-opacity="0" stroke="#a8102f" stroke-width="1.3"/>
<circle cx="192.00" cy="419.30" r="1.6" fill="#fff" fill-opacity="0" stroke="#a8102f" stroke-width="1.3"/>
<circle cx="196.80" cy="420.30" r="1.6" fill="#fff" fill-opacity="0" stroke="#a8102f" stroke-width="1.3"/>
<circle cx="201.50" cy="421.90" r="1.6" fill="#fff" fill-opacity="0" stroke="#a8102f" stroke-width="1.3"/>
<circle cx="206.50" cy="419.60" r="1.6" fill="#fff" fill-opacity="0" stroke="#a8102f" stroke-width="1.3"/>
<circle cx="210.80" cy="417.90" r="1.6" fill="#fff" fill-opacity="0" stroke="#a8102f" stroke-width="1.3"/>
<circle cx="192.20" cy="424.40" r="1.6" fill="#fff" fill-opacity="0" stroke="#a8102f" stroke-width="1.3"/>
<circle cx="210.80" cy="425.00" r="1.6" fill="#fff" fill-opacity="0" stroke="#a8102f" stroke-width="1.3"/>
<circle cx="192.00" cy="433.70" r="1.6" fill="#fff" fill-opacity="0" stroke="#a8102f" stroke-width="1.3"/>
<circle cx="210.80" cy="434.80" r="1.6" fill="#fff" fill-opacity="0" stroke="#a8102f" stroke-width="1.3"/>
<circle cx="196.80" cy="436.80" r="1.6" fill="#fff" fill-opacity="0" stroke="#a8102f" stroke-width="1.3"/>
<circle cx="201.50" cy="436.80" r="1.6" fill="#fff" fill-opacity="0" stroke="#a8102f" stroke-width="1.3"/>
<circle cx="206.50" cy="436.80" r="1.6" fill="#fff" fill-opacity="0" stroke="#a8102f" stroke-width="1.3"/>
<circle cx="196.80" cy="441.00" r="1.6" fill="#fff" fill-opacity="0" stroke="#a8102f" stroke-width="1.3"/>
<circle cx="201.50" cy="442.50" r="1.6" fill="#fff" fill-opacity="0" stroke="#a8102f" stroke-width="1.3"/>
<circle cx="194.30" cy="446.10" r="1.6" fill="#fff" fill-opacity="0" stroke="#a8102f" stroke-width="1.3"/>
<circle cx="198.90" cy="448.20" r="1.6" fill="#fff" fill-opacity="0" stroke="#a8102f" stroke-width="1.3"/>
<circle cx="204.10" cy="447.20" r="1.6" fill="#fff" fill-opacity="0" stroke="#a8102f" stroke-width="1.3"/>
<circle cx="208.70" cy="445.60" r="1.6" fill="#fff" fill-opacity="0" stroke="#a8102f" stroke-width="1.3"/>
<circle cx="236.60" cy="398.00" r="1.9" fill="#8a0c29"/>
<circle cx="231.80" cy="404.30" r="1.9" fill="#8a0c29"/>
<circle cx="236.60" cy="406.50" r="1.9" fill="#8a0c29"/>
<circle cx="244.00" cy="405.50" r="1.9" fill="#8a0c29"/>
<circle cx="231.80" cy="411.60" r="1.9" fill="#8a0c29"/>
<circle cx="236.60" cy="412.40" r="1.9" fill="#8a0c29"/>
<circle cx="241.10" cy="409.90" r="1.9" fill="#8a0c29"/>
<circle cx="233.50" cy="418.00" r="1.9" fill="#8a0c29"/>
<circle cx="237.50" cy="418.50" r="1.9" fill="#8a0c29"/>
<circle cx="229.30" cy="427.10" r="1.9" fill="#8a0c29"/>
<circle cx="241.10" cy="426.30" r="1.9" fill="#8a0c29"/>
<circle cx="236.60" cy="428.80" r="1.9" fill="#8a0c29"/>
<circle cx="226.80" cy="430.50" r="1.9" fill="#8a0c29"/>
<circle cx="246.20" cy="430.50" r="1.9" fill="#8a0c29"/>
<circle cx="231.80" cy="432.50" r="1.9" fill="#8a0c29"/>
<circle cx="241.10" cy="433.00" r="1.9" fill="#8a0c29"/>
<circle cx="226.80" cy="436.10" r="1.9" fill="#8a0c29"/>
<circle cx="231.00" cy="437.30" r="1.9" fill="#8a0c29"/>
<circle cx="246.20" cy="437.30" r="1.9" fill="#8a0c29"/>
<circle cx="236.60" cy="435.60" r="1.9" fill="#8a0c29"/>
<circle cx="234.40" cy="439.30" r="1.9" fill="#8a0c29"/>
<circle cx="242.50" cy="439.30" r="1.9" fill="#8a0c29"/>
<circle cx="238.90" cy="444.00" r="1.9" fill="#8a0c29"/>
<circle cx="234.40" cy="446.50" r="1.9" fill="#8a0c29"/>
<circle cx="236.60" cy="453.30" r="1.9" fill="#8a0c29"/>
<circle cx="239.40" cy="456.20" r="1.9" fill="#8a0c29"/>
<circle cx="234.40" cy="459.20" r="1.9" fill="#8a0c29"/>
<circle cx="236.60" cy="465.60" r="1.9" fill="#8a0c29"/>
<circle cx="236.60" cy="481.20" r="1.9" fill="#8a0c29"/>
<line x1="315.50" y1="429.90" x2="339.50" y2="429.90" stroke="#8e0f2d" stroke-width="1.3"/>
<circle cx="323.64" cy="421.50" r="1.35" fill="#fff" fill-opacity="0" stroke="#b90f31" stroke-width="1.1"/>
<circle cx="327.25" cy="421.50" r="1.35" fill="#fff" fill-opacity="0" stroke="#b90f31" stroke-width="1.1"/>
<circle cx="330.86" cy="421.50" r="1.35" fill="#fff" fill-opacity="0" stroke="#b90f31" stroke-width="1.1"/>
<circle cx="322.03" cy="424.15" r="1.35" fill="#fff" fill-opacity="0" stroke="#b90f31" stroke-width="1.1"/>
<circle cx="324.19" cy="424.15" r="1.35" fill="#fff" fill-opacity="0" stroke="#b90f31" stroke-width="1.1"/>
<circle cx="327.25" cy="424.15" r="1.35" fill="#fff" fill-opacity="0" stroke="#b90f31" stroke-width="1.1"/>
<circle cx="330.31" cy="424.15" r="1.35" fill="#fff" fill-opacity="0" stroke="#b90f31" stroke-width="1.1"/>
<circle cx="332.47" cy="424.15" r="1.35" fill="#fff" fill-opacity="0" stroke="#b90f31" stroke-width="1.1"/>
<circle cx="317.82" cy="426.80" r="1.35" fill="#fff" fill-opacity="0" stroke="#b90f31" stroke-width="1.1"/>
<circle cx="320.82" cy="426.80" r="1.35" fill="#fff" fill-opacity="0" stroke="#b90f31" stroke-width="1.1"/>
<circle cx="322.93" cy="426.80" r="1.35" fill="#fff" fill-opacity="0" stroke="#b90f31" stroke-width="1.1"/>
<circle cx="325.93" cy="426.80" r="1.35" fill="#fff" fill-opacity="0" stroke="#b90f31" stroke-width="1.1"/>
<circle cx="328.93" cy="426.80" r="1.35" fill="#fff" fill-opacity="0" stroke="#b90f31" stroke-width="1.1"/>
<circle cx="331.03" cy="426.80" r="1.35" fill="#fff" fill-opacity="0" stroke="#b90f31" stroke-width="1.1"/>
<circle cx="334.04" cy="426.80" r="1.35" fill="#fff" fill-opacity="0" stroke="#b90f31" stroke-width="1.1"/>
<circle cx="336.14" cy="426.80" r="1.35" fill="#fff" fill-opacity="0" stroke="#b90f31" stroke-width="1.1"/>
<circle cx="318.24" cy="429.45" r="1.35" fill="#fff" fill-opacity="0" stroke="#b90f31" stroke-width="1.1"/>
<circle cx="320.44" cy="429.45" r="1.35" fill="#fff" fill-opacity="0" stroke="#b90f31" stroke-width="1.1"/>
<circle cx="323.56" cy="429.45" r="1.35" fill="#fff" fill-opacity="0" stroke="#b90f31" stroke-width="1.1"/>
<circle cx="325.76" cy="429.45" r="1.35" fill="#fff" fill-opacity="0" stroke="#b90f31" stroke-width="1.1"/>
<circle cx="328.88" cy="429.45" r="1.35" fill="#fff" fill-opacity="0" stroke="#b90f31" stroke-width="1.1"/>
<circle cx="331.99" cy="429.45" r="1.35" fill="#fff" fill-opacity="0" stroke="#b90f31" stroke-width="1.1"/>
<circle cx="334.19" cy="429.45" r="1.35" fill="#fff" fill-opacity="0" stroke="#b90f31" stroke-width="1.1"/>
<circle cx="337.31" cy="429.45" r="1.35" fill="#fff" fill-opacity="0" stroke="#b90f31" stroke-width="1.1"/>
<circle cx="317.50" cy="431.90" r="1.35" fill="#fff" fill-opacity="0" stroke="#b90f31" stroke-width="1.1"/>
<circle cx="320.36" cy="431.90" r="1.35" fill="#fff" fill-opacity="0" stroke="#b90f31" stroke-width="1.1"/>
<circle cx="322.32" cy="431.90" r="1.35" fill="#fff" fill-opacity="0" stroke="#b90f31" stroke-width="1.1"/>
<circle cx="325.18" cy="431.90" r="1.35" fill="#fff" fill-opacity="0" stroke="#b90f31" stroke-width="1.1"/>
<circle cx="327.14" cy="431.90" r="1.35" fill="#fff" fill-opacity="0" stroke="#b90f31" stroke-width="1.1"/>
<circle cx="330.00" cy="431.90" r="1.35" fill="#fff" fill-opacity="0" stroke="#b90f31" stroke-width="1.1"/>
<circle cx="332.86" cy="431.90" r="1.35" fill="#fff" fill-opacity="0" stroke="#b90f31" stroke-width="1.1"/>
<circle cx="334.82" cy="431.90" r="1.35" fill="#fff" fill-opacity="0" stroke="#b90f31" stroke-width="1.1"/>
<circle cx="337.68" cy="431.90" r="1.35" fill="#fff" fill-opacity="0" stroke="#b90f31" stroke-width="1.1"/>
<polygon points="326.5,419.8 330.0,420.6 334.0,423.5 337.5,427.0 338.8,430.0 336.5,432.3 318.0,432.3 316.3,430.0 318.0,426.5 322.0,422.5" fill="#b90f31" fill-opacity="0.55"/>
<circle cx="327.20" cy="400.20" r="1.35" fill="#fff" fill-opacity="0" stroke="#a8102f" stroke-width="1.1"/>
<circle cx="322.50" cy="416.60" r="1.35" fill="#fff" fill-opacity="0" stroke="#a8102f" stroke-width="1.1"/>
<circle cx="327.00" cy="419.50" r="1.35" fill="#fff" fill-opacity="0" stroke="#a8102f" stroke-width="1.1"/>
<circle cx="325.10" cy="420.60" r="1.35" fill="#fff" fill-opacity="0" stroke="#a8102f" stroke-width="1.1"/>
<circle cx="317.60" cy="422.90" r="1.35" fill="#fff" fill-opacity="0" stroke="#a8102f" stroke-width="1.1"/>
<circle cx="336.80" cy="422.90" r="1.35" fill="#fff" fill-opacity="0" stroke="#a8102f" stroke-width="1.1"/>
<circle cx="330.00" cy="421.80" r="1.35" fill="#fff" fill-opacity="0" stroke="#a8102f" stroke-width="1.1"/>
<circle cx="320.30" cy="434.10" r="1.35" fill="#fff" fill-opacity="0" stroke="#a8102f" stroke-width="1.1"/>
<circle cx="331.90" cy="433.40" r="1.35" fill="#fff" fill-opacity="0" stroke="#a8102f" stroke-width="1.1"/>
<circle cx="327.40" cy="433.80" r="1.35" fill="#fff" fill-opacity="0" stroke="#a8102f" stroke-width="1.1"/>
<circle cx="317.60" cy="437.50" r="1.35" fill="#fff" fill-opacity="0" stroke="#a8102f" stroke-width="1.1"/>
<circle cx="322.50" cy="437.50" r="1.35" fill="#fff" fill-opacity="0" stroke="#a8102f" stroke-width="1.1"/>
<circle cx="327.40" cy="437.50" r="1.35" fill="#fff" fill-opacity="0" stroke="#a8102f" stroke-width="1.1"/>
<circle cx="332.30" cy="437.50" r="1.35" fill="#fff" fill-opacity="0" stroke="#a8102f" stroke-width="1.1"/>
<circle cx="336.80" cy="437.50" r="1.35" fill="#fff" fill-opacity="0" stroke="#a8102f" stroke-width="1.1"/>
<circle cx="317.60" cy="441.70" r="1.35" fill="#fff" fill-opacity="0" stroke="#a8102f" stroke-width="1.1"/>
<circle cx="322.50" cy="441.70" r="1.35" fill="#fff" fill-opacity="0" stroke="#a8102f" stroke-width="1.1"/>
<circle cx="336.80" cy="441.70" r="1.35" fill="#fff" fill-opacity="0" stroke="#a8102f" stroke-width="1.1"/>
<circle cx="327.40" cy="444.70" r="1.35" fill="#fff" fill-opacity="0" stroke="#a8102f" stroke-width="1.1"/>
<circle cx="331.90" cy="443.20" r="1.35" fill="#fff" fill-opacity="0" stroke="#a8102f" stroke-width="1.1"/>
<circle cx="324.90" cy="436.00" r="1.35" fill="#fff" fill-opacity="0" stroke="#a8102f" stroke-width="1.1"/>
<circle cx="329.80" cy="436.00" r="1.35" fill="#fff" fill-opacity="0" stroke="#a8102f" stroke-width="1.1"/>
<circle cx="357.50" cy="402.20" r="1.45" fill="#8a0c29"/>
<circle cx="362.40" cy="404.10" r="1.45" fill="#8a0c29"/>
<circle cx="362.40" cy="409.00" r="1.45" fill="#8a0c29"/>
<circle cx="357.50" cy="415.40" r="1.45" fill="#8a0c29"/>
<circle cx="367.50" cy="413.60" r="1.45" fill="#8a0c29"/>
<circle cx="362.40" cy="417.80" r="1.45" fill="#8a0c29"/>
<circle cx="357.50" cy="421.00" r="1.45" fill="#8a0c29"/>
<circle cx="367.50" cy="421.00" r="1.45" fill="#8a0c29"/>
<circle cx="371.80" cy="420.20" r="1.45" fill="#8a0c29"/>
<circle cx="357.50" cy="425.30" r="1.45" fill="#8a0c29"/>
<circle cx="367.50" cy="425.30" r="1.45" fill="#8a0c29"/>
<circle cx="352.50" cy="430.00" r="1.45" fill="#8a0c29"/>
<circle cx="357.50" cy="430.00" r="1.45" fill="#8a0c29"/>
<circle cx="362.40" cy="430.00" r="1.45" fill="#8a0c29"/>
<circle cx="367.50" cy="430.00" r="1.45" fill="#8a0c29"/>
<circle cx="372.00" cy="430.00" r="1.45" fill="#8a0c29"/>
<circle cx="352.70" cy="436.70" r="1.45" fill="#8a0c29"/>
<circle cx="360.30" cy="436.00" r="1.45" fill="#8a0c29"/>
<circle cx="371.80" cy="436.70" r="1.45" fill="#8a0c29"/>
<circle cx="357.50" cy="439.60" r="1.45" fill="#8a0c29"/>
<circle cx="362.40" cy="440.00" r="1.45" fill="#8a0c29"/>
<circle cx="367.50" cy="439.00" r="1.45" fill="#8a0c29"/>
<circle cx="367.50" cy="448.30" r="1.45" fill="#8a0c29"/>
<circle cx="362.40" cy="450.00" r="1.45" fill="#8a0c29"/>
<circle cx="367.50" cy="453.10" r="1.45" fill="#8a0c29"/>
<circle cx="357.50" cy="455.50" r="1.45" fill="#8a0c29"/>
<circle cx="362.40" cy="455.80" r="1.45" fill="#8a0c29"/>
<circle cx="362.40" cy="477.00" r="1.45" fill="#8a0c29"/>
<line x1="447.40" y1="441.00" x2="471.60" y2="441.00" stroke="#8e0f2d" stroke-width="1.3"/>
<circle cx="449.64" cy="435.30" r="1.35" fill="#fff" fill-opacity="0" stroke="#b90f31" stroke-width="1.1"/>
<circle cx="452.83" cy="435.30" r="1.35" fill="#fff" fill-opacity="0" stroke="#b90f31" stroke-width="1.1"/>
<circle cx="456.03" cy="435.30" r="1.35" fill="#fff" fill-opacity="0" stroke="#b90f31" stroke-width="1.1"/>
<circle cx="458.32" cy="435.30" r="1.35" fill="#fff" fill-opacity="0" stroke="#b90f31" stroke-width="1.1"/>
<circle cx="461.51" cy="435.30" r="1.35" fill="#fff" fill-opacity="0" stroke="#b90f31" stroke-width="1.1"/>
<circle cx="463.81" cy="435.30" r="1.35" fill="#fff" fill-opacity="0" stroke="#b90f31" stroke-width="1.1"/>
<circle cx="467.00" cy="435.30" r="1.35" fill="#fff" fill-opacity="0" stroke="#b90f31" stroke-width="1.1"/>
<circle cx="449.09" cy="437.95" r="1.35" fill="#fff" fill-opacity="0" stroke="#b90f31" stroke-width="1.1"/>
<circle cx="451.36" cy="437.95" r="1.35" fill="#fff" fill-opacity="0" stroke="#b90f31" stroke-width="1.1"/>
<circle cx="454.53" cy="437.95" r="1.35" fill="#fff" fill-opacity="0" stroke="#b90f31" stroke-width="1.1"/>
<circle cx="457.70" cy="437.95" r="1.35" fill="#fff" fill-opacity="0" stroke="#b90f31" stroke-width="1.1"/>
<circle cx="459.98" cy="437.95" r="1.35" fill="#fff" fill-opacity="0" stroke="#b90f31" stroke-width="1.1"/>
<circle cx="463.15" cy="437.95" r="1.35" fill="#fff" fill-opacity="0" stroke="#b90f31" stroke-width="1.1"/>
<circle cx="465.42" cy="437.95" r="1.35" fill="#fff" fill-opacity="0" stroke="#b90f31" stroke-width="1.1"/>
<circle cx="468.59" cy="437.95" r="1.35" fill="#fff" fill-opacity="0" stroke="#b90f31" stroke-width="1.1"/>
<circle cx="446.32" cy="440.60" r="1.35" fill="#fff" fill-opacity="0" stroke="#b90f31" stroke-width="1.1"/>
<circle cx="449.40" cy="440.60" r="1.35" fill="#fff" fill-opacity="0" stroke="#b90f31" stroke-width="1.1"/>
<circle cx="451.58" cy="440.60" r="1.35" fill="#fff" fill-opacity="0" stroke="#b90f31" stroke-width="1.1"/>
<circle cx="454.67" cy="440.60" r="1.35" fill="#fff" fill-opacity="0" stroke="#b90f31" stroke-width="1.1"/>
<circle cx="457.75" cy="440.60" r="1.35" fill="#fff" fill-opacity="0" stroke="#b90f31" stroke-width="1.1"/>
<circle cx="459.93" cy="440.60" r="1.35" fill="#fff" fill-opacity="0" stroke="#b90f31" stroke-width="1.1"/>
<circle cx="463.01" cy="440.60" r="1.35" fill="#fff" fill-opacity="0" stroke="#b90f31" stroke-width="1.1"/>
<circle cx="465.20" cy="440.60" r="1.35" fill="#fff" fill-opacity="0" stroke="#b90f31" stroke-width="1.1"/>
<circle cx="468.28" cy="440.60" r="1.35" fill="#fff" fill-opacity="0" stroke="#b90f31" stroke-width="1.1"/>
<circle cx="471.36" cy="440.60" r="1.35" fill="#fff" fill-opacity="0" stroke="#b90f31" stroke-width="1.1"/>
<circle cx="448.67" cy="443.25" r="1.35" fill="#fff" fill-opacity="0" stroke="#b90f31" stroke-width="1.1"/>
<circle cx="450.74" cy="443.25" r="1.35" fill="#fff" fill-opacity="0" stroke="#b90f31" stroke-width="1.1"/>
<circle cx="453.71" cy="443.25" r="1.35" fill="#fff" fill-opacity="0" stroke="#b90f31" stroke-width="1.1"/>
<circle cx="455.78" cy="443.25" r="1.35" fill="#fff" fill-opacity="0" stroke="#b90f31" stroke-width="1.1"/>
<circle cx="458.75" cy="443.25" r="1.35" fill="#fff" fill-opacity="0" stroke="#b90f31" stroke-width="1.1"/>
<circle cx="461.72" cy="443.25" r="1.35" fill="#fff" fill-opacity="0" stroke="#b90f31" stroke-width="1.1"/>
<circle cx="463.79" cy="443.25" r="1.35" fill="#fff" fill-opacity="0" stroke="#b90f31" stroke-width="1.1"/>
<circle cx="466.76" cy="443.25" r="1.35" fill="#fff" fill-opacity="0" stroke="#b90f31" stroke-width="1.1"/>
<circle cx="468.83" cy="443.25" r="1.35" fill="#fff" fill-opacity="0" stroke="#b90f31" stroke-width="1.1"/>
<circle cx="448.00" cy="445.90" r="1.35" fill="#fff" fill-opacity="0" stroke="#b90f31" stroke-width="1.1"/>
<circle cx="450.99" cy="445.90" r="1.35" fill="#fff" fill-opacity="0" stroke="#b90f31" stroke-width="1.1"/>
<circle cx="453.07" cy="445.90" r="1.35" fill="#fff" fill-opacity="0" stroke="#b90f31" stroke-width="1.1"/>
<circle cx="456.06" cy="445.90" r="1.35" fill="#fff" fill-opacity="0" stroke="#b90f31" stroke-width="1.1"/>
<circle cx="458.14" cy="445.90" r="1.35" fill="#fff" fill-opacity="0" stroke="#b90f31" stroke-width="1.1"/>
<circle cx="461.12" cy="445.90" r="1.35" fill="#fff" fill-opacity="0" stroke="#b90f31" stroke-width="1.1"/>
<circle cx="464.11" cy="445.90" r="1.35" fill="#fff" fill-opacity="0" stroke="#b90f31" stroke-width="1.1"/>
<circle cx="466.19" cy="445.90" r="1.35" fill="#fff" fill-opacity="0" stroke="#b90f31" stroke-width="1.1"/>
<circle cx="469.18" cy="445.90" r="1.35" fill="#fff" fill-opacity="0" stroke="#b90f31" stroke-width="1.1"/>
<circle cx="451.89" cy="447.80" r="1.35" fill="#fff" fill-opacity="0" stroke="#b90f31" stroke-width="1.1"/>
<circle cx="454.75" cy="447.80" r="1.35" fill="#fff" fill-opacity="0" stroke="#b90f31" stroke-width="1.1"/>
<circle cx="457.61" cy="447.80" r="1.35" fill="#fff" fill-opacity="0" stroke="#b90f31" stroke-width="1.1"/>
<circle cx="459.57" cy="447.80" r="1.35" fill="#fff" fill-opacity="0" stroke="#b90f31" stroke-width="1.1"/>
<circle cx="462.43" cy="447.80" r="1.35" fill="#fff" fill-opacity="0" stroke="#b90f31" stroke-width="1.1"/>
<circle cx="464.39" cy="447.80" r="1.35" fill="#fff" fill-opacity="0" stroke="#b90f31" stroke-width="1.1"/>
<polygon points="449.5,434.5 467.5,434.5 470.5,440.0 469.0,446.0 464.0,449.5 453.0,449.5 448.0,446.0 447.0,440.0" fill="#b90f31" fill-opacity="0.4"/>
<circle cx="458.30" cy="412.90" r="1.35" fill="#fff" fill-opacity="0" stroke="#a8102f" stroke-width="1.1"/>
<circle cx="463.40" cy="419.40" r="1.35" fill="#fff" fill-opacity="0" stroke="#a8102f" stroke-width="1.1"/>
<circle cx="458.30" cy="422.40" r="1.35" fill="#fff" fill-opacity="0" stroke="#a8102f" stroke-width="1.1"/>
<circle cx="463.40" cy="424.10" r="1.35" fill="#fff" fill-opacity="0" stroke="#a8102f" stroke-width="1.1"/>
<circle cx="448.50" cy="429.50" r="1.35" fill="#fff" fill-opacity="0" stroke="#a8102f" stroke-width="1.1"/>
<circle cx="453.20" cy="428.40" r="1.35" fill="#fff" fill-opacity="0" stroke="#a8102f" stroke-width="1.1"/>
<circle cx="458.30" cy="428.40" r="1.35" fill="#fff" fill-opacity="0" stroke="#a8102f" stroke-width="1.1"/>
<circle cx="468.10" cy="430.30" r="1.35" fill="#fff" fill-opacity="0" stroke="#a8102f" stroke-width="1.1"/>
<circle cx="453.20" cy="432.00" r="1.35" fill="#fff" fill-opacity="0" stroke="#a8102f" stroke-width="1.1"/>
<circle cx="458.30" cy="433.30" r="1.35" fill="#fff" fill-opacity="0" stroke="#a8102f" stroke-width="1.1"/>
<circle cx="463.40" cy="433.10" r="1.35" fill="#fff" fill-opacity="0" stroke="#a8102f" stroke-width="1.1"/>
<circle cx="465.80" cy="434.00" r="1.35" fill="#fff" fill-opacity="0" stroke="#a8102f" stroke-width="1.1"/>
<circle cx="448.70" cy="448.30" r="1.35" fill="#fff" fill-opacity="0" stroke="#a8102f" stroke-width="1.1"/>
<circle cx="468.10" cy="450.00" r="1.35" fill="#fff" fill-opacity="0" stroke="#a8102f" stroke-width="1.1"/>
<circle cx="453.20" cy="452.00" r="1.35" fill="#fff" fill-opacity="0" stroke="#a8102f" stroke-width="1.1"/>
<circle cx="458.30" cy="450.00" r="1.35" fill="#fff" fill-opacity="0" stroke="#a8102f" stroke-width="1.1"/>
<circle cx="458.30" cy="454.50" r="1.35" fill="#fff" fill-opacity="0" stroke="#a8102f" stroke-width="1.1"/>
<circle cx="463.40" cy="454.00" r="1.35" fill="#fff" fill-opacity="0" stroke="#a8102f" stroke-width="1.1"/>
<circle cx="493.50" cy="395.00" r="1.45" fill="#8a0c29"/>
<circle cx="493.50" cy="403.90" r="1.45" fill="#8a0c29"/>
<circle cx="488.80" cy="412.80" r="1.45" fill="#8a0c29"/>
<circle cx="493.50" cy="412.80" r="1.45" fill="#8a0c29"/>
<circle cx="498.30" cy="416.70" r="1.45" fill="#8a0c29"/>
<circle cx="493.50" cy="418.50" r="1.45" fill="#8a0c29"/>
<circle cx="493.50" cy="432.80" r="1.45" fill="#8a0c29"/>
<circle cx="484.00" cy="436.70" r="1.45" fill="#8a0c29"/>
<circle cx="488.80" cy="438.50" r="1.45" fill="#8a0c29"/>
<circle cx="498.30" cy="437.80" r="1.45" fill="#8a0c29"/>
<circle cx="493.50" cy="439.90" r="1.45" fill="#8a0c29"/>
<circle cx="503.10" cy="440.80" r="1.45" fill="#8a0c29"/>
<circle cx="488.80" cy="443.30" r="1.45" fill="#8a0c29"/>
<circle cx="493.50" cy="443.30" r="1.45" fill="#8a0c29"/>
<circle cx="498.30" cy="443.30" r="1.45" fill="#8a0c29"/>
<circle cx="484.00" cy="447.90" r="1.45" fill="#8a0c29"/>
<circle cx="488.80" cy="447.90" r="1.45" fill="#8a0c29"/>
<circle cx="493.50" cy="448.90" r="1.45" fill="#8a0c29"/>
<circle cx="498.30" cy="447.90" r="1.45" fill="#8a0c29"/>
<circle cx="503.10" cy="446.70" r="1.45" fill="#8a0c29"/>
<circle cx="493.50" cy="449.70" r="1.45" fill="#8a0c29"/>
<circle cx="488.80" cy="455.10" r="1.45" fill="#8a0c29"/>
<circle cx="498.30" cy="456.30" r="1.45" fill="#8a0c29"/>
<circle cx="493.50" cy="459.50" r="1.45" fill="#8a0c29"/>
<circle cx="488.80" cy="464.50" r="1.45" fill="#8a0c29"/>
<circle cx="493.50" cy="468.10" r="1.45" fill="#8a0c29"/>
<circle cx="493.50" cy="477.30" r="1.45" fill="#8a0c29"/>
<line x1="92.10" y1="295.00" x2="116.90" y2="295.00" stroke="#8e0f2d" stroke-width="1.3"/>
<line x1="98.00" y1="284.20" x2="111.00" y2="284.20" stroke="#8e0f2d" stroke-width="1.3"/>
<line x1="98.00" y1="298.00" x2="111.00" y2="298.00" stroke="#8e0f2d" stroke-width="1.3"/>
<line x1="104.50" y1="284.20" x2="104.50" y2="298.00" stroke="#8e0f2d" stroke-width="1.3"/>
<line x1="224.20" y1="274.80" x2="248.80" y2="274.80" stroke="#8e0f2d" stroke-width="1.3"/>
<line x1="231.30" y1="263.00" x2="241.70" y2="263.00" stroke="#8e0f2d" stroke-width="1.3"/>
<line x1="231.30" y1="277.50" x2="241.70" y2="277.50" stroke="#8e0f2d" stroke-width="1.3"/>
<line x1="236.50" y1="263.00" x2="236.50" y2="277.50" stroke="#8e0f2d" stroke-width="1.3"/>
<line x1="315.30" y1="286.00" x2="339.90" y2="286.00" stroke="#8e0f2d" stroke-width="1.3"/>
<line x1="317.10" y1="280.30" x2="338.10" y2="280.30" stroke="#8e0f2d" stroke-width="1.3"/>
<line x1="317.10" y1="292.20" x2="338.10" y2="292.20" stroke="#8e0f2d" stroke-width="1.3"/>
<line x1="327.60" y1="280.30" x2="327.60" y2="292.20" stroke="#8e0f2d" stroke-width="1.3"/>
<line x1="350.30" y1="289.30" x2="374.90" y2="289.30" stroke="#8e0f2d" stroke-width="1.2"/>
<line x1="356.80" y1="279.40" x2="368.40" y2="279.40" stroke="#8e0f2d" stroke-width="1.2"/>
<line x1="356.80" y1="298.30" x2="368.40" y2="298.30" stroke="#8e0f2d" stroke-width="1.2"/>
<line x1="362.60" y1="279.40" x2="362.60" y2="298.30" stroke="#8e0f2d" stroke-width="1.2"/>
<line x1="481.80" y1="280.40" x2="506.60" y2="280.40" stroke="#8e0f2d" stroke-width="1.2"/>
<line x1="487.90" y1="267.70" x2="500.50" y2="267.70" stroke="#8e0f2d" stroke-width="1.2"/>
<line x1="487.90" y1="284.20" x2="500.50" y2="284.20" stroke="#8e0f2d" stroke-width="1.2"/>
<line x1="494.20" y1="267.70" x2="494.20" y2="284.20" stroke="#8e0f2d" stroke-width="1.2"/>
<line x1="91.80" y1="439.30" x2="116.60" y2="439.30" stroke="#8e0f2d" stroke-width="1.3"/>
<line x1="97.70" y1="432.50" x2="110.70" y2="432.50" stroke="#8e0f2d" stroke-width="1.3"/>
<line x1="97.70" y1="455.80" x2="110.70" y2="455.80" stroke="#8e0f2d" stroke-width="1.3"/>
<line x1="104.20" y1="432.50" x2="104.20" y2="455.80" stroke="#8e0f2d" stroke-width="1.3"/>
<line x1="224.40" y1="432.20" x2="248.80" y2="432.20" stroke="#8e0f2d" stroke-width="1.3"/>
<line x1="230.20" y1="416.60" x2="243.00" y2="416.60" stroke="#8e0f2d" stroke-width="1.3"/>
<line x1="230.20" y1="440.60" x2="243.00" y2="440.60" stroke="#8e0f2d" stroke-width="1.3"/>
<line x1="236.60" y1="416.60" x2="236.60" y2="440.60" stroke="#8e0f2d" stroke-width="1.3"/>
<line x1="350.40" y1="430.00" x2="375.00" y2="430.00" stroke="#8e0f2d" stroke-width="1.2"/>
<line x1="356.50" y1="421.30" x2="368.90" y2="421.30" stroke="#8e0f2d" stroke-width="1.2"/>
<line x1="356.50" y1="439.60" x2="368.90" y2="439.60" stroke="#8e0f2d" stroke-width="1.2"/>
<line x1="362.70" y1="421.30" x2="362.70" y2="439.60" stroke="#8e0f2d" stroke-width="1.2"/>
<line x1="481.70" y1="443.80" x2="506.70" y2="443.80" stroke="#8e0f2d" stroke-width="1.2"/>
<line x1="487.90" y1="423.00" x2="500.50" y2="423.00" stroke="#8e0f2d" stroke-width="1.2"/>
<line x1="487.90" y1="449.50" x2="500.50" y2="449.50" stroke="#8e0f2d" stroke-width="1.2"/>
<line x1="494.20" y1="423.00" x2="494.20" y2="449.50" stroke="#8e0f2d" stroke-width="1.2"/>
<text x="8.00" y="15.70" font-size="11.8" text-anchor="start" fill="#000" font-weight="bold" stroke="#000" stroke-width="0.45">A</text>
<text x="243.50" y="15.60" font-size="11.8" text-anchor="start" fill="#000" font-weight="bold" stroke="#000" stroke-width="0.45">B</text>
<text x="7.50" y="197.90" font-size="11.8" text-anchor="start" fill="#000" font-weight="bold" stroke="#000" stroke-width="0.45">C</text>
<text x="142.50" y="197.90" font-size="11.8" text-anchor="start" fill="#000" font-weight="bold" stroke="#000" stroke-width="0.45">D</text>
<text x="272.80" y="197.90" font-size="11.8" text-anchor="start" fill="#000" font-weight="bold" stroke="#000" stroke-width="0.45">E</text>
<text x="399.50" y="197.90" font-size="11.8" text-anchor="start" fill="#000" font-weight="bold" stroke="#000" stroke-width="0.45">F</text>
<text x="7.50" y="377.30" font-size="11.8" text-anchor="start" fill="#000" font-weight="bold" stroke="#000" stroke-width="0.45">G</text>
<text x="142.50" y="377.30" font-size="11.8" text-anchor="start" fill="#000" font-weight="bold" stroke="#000" stroke-width="0.45">H</text>
<text x="272.80" y="377.30" font-size="11.8" text-anchor="start" fill="#000" font-weight="bold" stroke="#000" stroke-width="0.45">I</text>
<text x="398.80" y="377.30" font-size="11.8" text-anchor="start" fill="#000" font-weight="bold" stroke="#000" stroke-width="0.45">J</text></svg></body></html>
